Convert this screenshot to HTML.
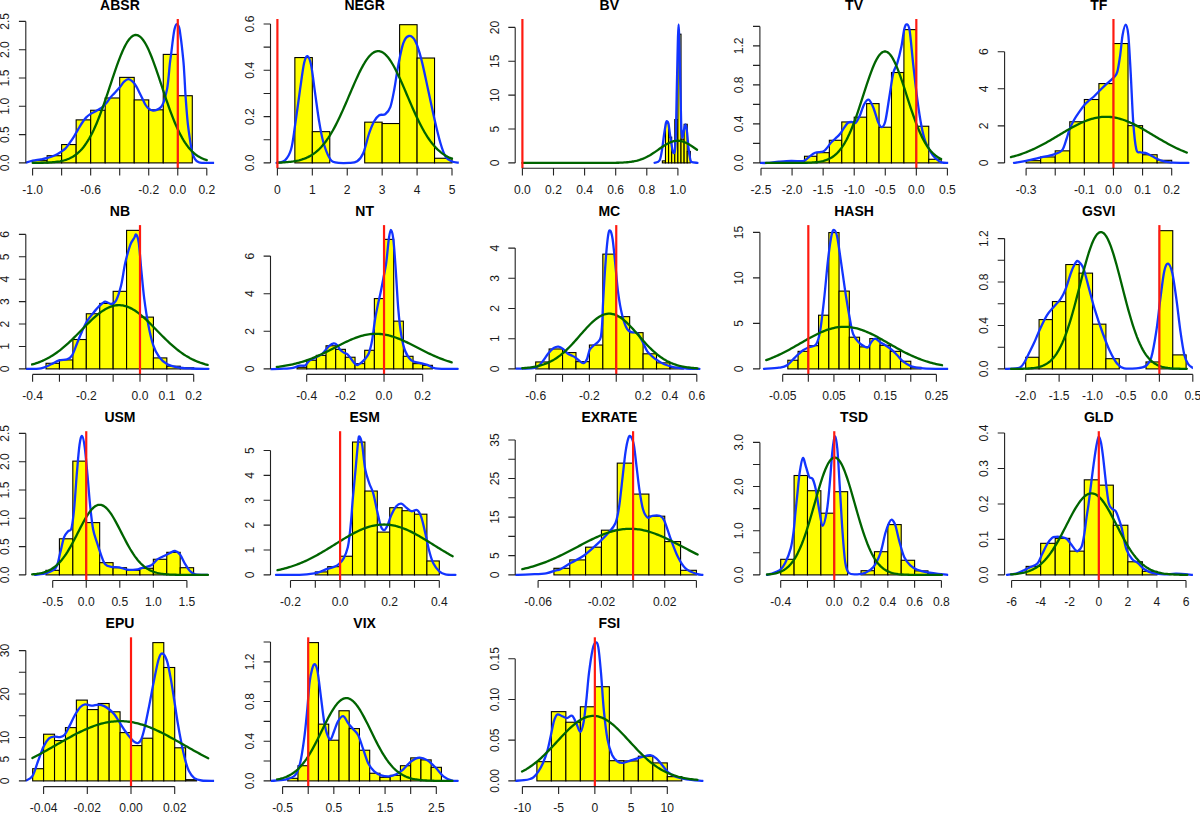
<!DOCTYPE html><html><head><meta charset="utf-8"><style>html,body{margin:0;padding:0;background:#fff;}svg{display:block;}text{font-family:"Liberation Sans",sans-serif;fill:#1a1a1a;}.t{font-weight:bold;font-size:14.0px;fill:#000;}.a{font-size:12.1px;}</style></head><body>
<svg width="1200" height="813" viewBox="0 0 1200 813">
<rect width="1200" height="813" fill="#fff"/>
<defs>
<clipPath id="c_ABSR"><rect x="25.8" y="19" width="188.3" height="149.3"/></clipPath>
<clipPath id="c_NEGR"><rect x="270.5" y="19" width="188.3" height="149.3"/></clipPath>
<clipPath id="c_BV"><rect x="515.2" y="19" width="188.3" height="149.3"/></clipPath>
<clipPath id="c_TV"><rect x="759.9" y="19" width="188.3" height="149.3"/></clipPath>
<clipPath id="c_TF"><rect x="1004.6" y="19" width="188.3" height="149.3"/></clipPath>
<clipPath id="c_NB"><rect x="25.8" y="225.1" width="188.3" height="149.3"/></clipPath>
<clipPath id="c_NT"><rect x="270.5" y="225.1" width="188.3" height="149.3"/></clipPath>
<clipPath id="c_MC"><rect x="515.2" y="225.1" width="188.3" height="149.3"/></clipPath>
<clipPath id="c_HASH"><rect x="759.9" y="225.1" width="188.3" height="149.3"/></clipPath>
<clipPath id="c_GSVI"><rect x="1004.6" y="225.1" width="188.3" height="149.3"/></clipPath>
<clipPath id="c_USM"><rect x="25.8" y="431.2" width="188.3" height="149.3"/></clipPath>
<clipPath id="c_ESM"><rect x="270.5" y="431.2" width="188.3" height="149.3"/></clipPath>
<clipPath id="c_EXRATE"><rect x="515.2" y="431.2" width="188.3" height="149.3"/></clipPath>
<clipPath id="c_TSD"><rect x="759.9" y="431.2" width="188.3" height="149.3"/></clipPath>
<clipPath id="c_GLD"><rect x="1004.6" y="431.2" width="188.3" height="149.3"/></clipPath>
<clipPath id="c_EPU"><rect x="25.8" y="637.3" width="188.3" height="149.3"/></clipPath>
<clipPath id="c_VIX"><rect x="270.5" y="637.3" width="188.3" height="149.3"/></clipPath>
<clipPath id="c_FSI"><rect x="515.2" y="637.3" width="188.3" height="149.3"/></clipPath>
</defs>
<g fill="#ffff00" stroke="#000" stroke-width="1.1"><rect x="32.6" y="160.64" width="14.52" height="2.26"/><rect x="47.12" y="155.71" width="14.52" height="7.19"/><rect x="61.63" y="144.56" width="14.52" height="18.34"/><rect x="76.15" y="119.88" width="14.52" height="43.02"/><rect x="90.67" y="110.26" width="14.52" height="52.64"/><rect x="105.18" y="97.98" width="14.52" height="64.92"/><rect x="119.7" y="77.38" width="14.52" height="85.52"/><rect x="134.22" y="99.9" width="14.52" height="63"/><rect x="148.73" y="109.81" width="14.52" height="53.09"/><rect x="163.25" y="54.4" width="14.52" height="108.5"/><rect x="177.77" y="95.72" width="14.52" height="67.18"/></g>
<g clip-path="url(#c_ABSR)" fill="none" stroke-linejoin="round" stroke-linecap="round">
<path d="M25.4 162.8 C26.63 162.45 30.25 161.27 32.8 160.7 C35.35 160.13 38.23 159.87 40.7 159.4 C43.17 158.93 45.3 158.55 47.6 157.9 C49.9 157.25 52.37 156.45 54.5 155.5 C56.63 154.55 58.6 153.35 60.4 152.2 C62.2 151.05 63.67 150.27 65.3 148.6 C66.93 146.93 68.73 144.25 70.2 142.2 C71.67 140.15 72.78 138.43 74.1 136.3 C75.42 134.17 76.78 131.62 78.1 129.4 C79.42 127.18 80.68 124.97 82 123 C83.32 121.03 84.68 119.03 86 117.6 C87.32 116.17 88.27 115.47 89.9 114.4 C91.53 113.33 93.83 112.32 95.8 111.2 C97.77 110.08 99.9 109.1 101.7 107.7 C103.5 106.3 105.22 104.42 106.6 102.8 C107.98 101.18 108.62 99.68 110 98 C111.38 96.32 113.27 94.5 114.9 92.7 C116.53 90.9 118.27 89.03 119.8 87.2 C121.33 85.37 122.67 83.03 124.1 81.7 C125.53 80.37 126.97 79.2 128.4 79.2 C129.83 79.2 131.37 80.47 132.7 81.7 C134.03 82.93 135.27 84.77 136.4 86.6 C137.53 88.43 138.47 90.65 139.5 92.7 C140.53 94.75 141.58 96.85 142.6 98.9 C143.62 100.95 144.58 103.37 145.6 105 C146.62 106.63 147.47 107.77 148.7 108.7 C149.93 109.63 151.57 110.45 153 110.6 C154.43 110.75 155.97 110.22 157.3 109.6 C158.63 108.98 159.97 108.07 161 106.9 C162.03 105.73 162.78 104.35 163.5 102.6 C164.22 100.85 164.68 98.77 165.3 96.4 C165.92 94.03 166.63 91.8 167.2 88.4 C167.77 85 168.27 80.03 168.7 76 C169.13 71.97 169.35 68.22 169.8 64.2 C170.25 60.18 170.88 56 171.4 51.9 C171.92 47.8 172.38 43.38 172.9 39.6 C173.42 35.82 173.88 31.77 174.5 29.2 C175.12 26.63 175.83 24.52 176.6 24.2 C177.37 23.88 178.43 25.25 179.1 27.3 C179.77 29.35 180.15 33.42 180.6 36.5 C181.05 39.58 181.38 42.2 181.8 45.8 C182.22 49.4 182.77 54.73 183.1 58.1 C183.43 61.47 183.55 62.52 183.8 66 C184.05 69.48 184.33 74.38 184.6 79 C184.87 83.62 185.07 88.53 185.4 93.7 C185.73 98.87 186.18 104.88 186.6 110 C187.02 115.12 187.35 119.53 187.9 124.4 C188.45 129.27 189.23 134.77 189.9 139.2 C190.57 143.63 191.08 147.72 191.9 151 C192.72 154.28 193.67 157.02 194.8 158.9 C195.93 160.78 197.22 161.65 198.7 162.3 C200.18 162.95 201.15 162.72 203.7 162.8 C206.25 162.88 212.28 162.8 214 162.8" stroke="#1234ff" stroke-width="2.3"/>
<path d="M32.6 162.86 L34.05 162.85 L35.5 162.84 L36.96 162.83 L38.41 162.81 L39.86 162.79 L41.31 162.76 L42.76 162.73 L44.21 162.69 L45.66 162.64 L47.12 162.58 L48.57 162.51 L50.02 162.43 L51.47 162.34 L52.92 162.22 L54.38 162.09 L55.83 161.93 L57.28 161.74 L58.73 161.52 L60.18 161.27 L61.63 160.98 L63.09 160.64 L64.54 160.25 L65.99 159.8 L67.44 159.29 L68.89 158.7 L70.34 158.04 L71.8 157.29 L73.25 156.45 L74.7 155.5 L76.15 154.44 L77.6 153.26 L79.05 151.96 L80.51 150.51 L81.96 148.92 L83.41 147.18 L84.86 145.27 L86.31 143.2 L87.76 140.95 L89.22 138.53 L90.67 135.92 L92.12 133.13 L93.57 130.16 L95.02 127.01 L96.47 123.68 L97.93 120.17 L99.38 116.51 L100.83 112.69 L102.28 108.73 L103.73 104.65 L105.18 100.46 L106.64 96.18 L108.09 91.84 L109.54 87.46 L110.99 83.06 L112.44 78.68 L113.89 74.35 L115.34 70.09 L116.8 65.93 L118.25 61.92 L119.7 58.07 L121.15 54.43 L122.6 51.02 L124.06 47.87 L125.51 45.02 L126.96 42.48 L128.41 40.28 L129.86 38.44 L131.31 36.98 L132.77 35.9 L134.22 35.23 L135.67 34.97 L137.12 35.12 L138.57 35.68 L140.02 36.64 L141.48 37.99 L142.93 39.73 L144.38 41.83 L145.83 44.27 L147.28 47.04 L148.73 50.11 L150.19 53.45 L151.64 57.03 L153.09 60.82 L154.54 64.79 L155.99 68.91 L157.44 73.14 L158.9 77.46 L160.35 81.83 L161.8 86.23 L163.25 90.62 L164.7 94.97 L166.15 99.27 L167.6 103.49 L169.06 107.6 L170.51 111.6 L171.96 115.46 L173.41 119.16 L174.86 122.71 L176.31 126.09 L177.77 129.29 L179.22 132.32 L180.67 135.16 L182.12 137.81 L183.57 140.29 L185.03 142.59 L186.48 144.71 L187.93 146.66 L189.38 148.45 L190.83 150.08 L192.28 151.57 L193.73 152.91 L195.19 154.13 L196.64 155.22 L198.09 156.19 L199.54 157.06 L200.99 157.84 L202.45 158.52 L203.9 159.13 L205.35 159.66 L206.8 160.13" stroke="#006400" stroke-width="2.3"/>
</g>
<line x1="177.77" y1="19" x2="177.77" y2="168.3" stroke="#ff1a10" stroke-width="2.2"/>
<path d="M32.6 168.3 H206.8 M32.6 168.3 V175.6 M61.63 168.3 V175.6 M90.67 168.3 V175.6 M119.7 168.3 V175.6 M148.73 168.3 V175.6 M177.77 168.3 V175.6 M206.8 168.3 V175.6 M25.8 162.9 V21.4 M18.9 162.9 H25.8 M18.9 134.6 H25.8 M18.9 106.3 H25.8 M18.9 78 H25.8 M18.9 49.7 H25.8 M18.9 21.4 H25.8" stroke="#222" stroke-width="1.1" fill="none"/>
<text class="a" x="32.6" y="194" text-anchor="middle">-1.0</text>
<text class="a" x="90.67" y="194" text-anchor="middle">-0.6</text>
<text class="a" x="148.73" y="194" text-anchor="middle">-0.2</text>
<text class="a" x="177.77" y="194" text-anchor="middle">0.0</text>
<text class="a" x="206.8" y="194" text-anchor="middle">0.2</text>
<text class="a" x="9.3" y="162.9" text-anchor="middle" transform="rotate(-90 9.3 162.9)">0.0</text>
<text class="a" x="9.3" y="134.6" text-anchor="middle" transform="rotate(-90 9.3 134.6)">0.5</text>
<text class="a" x="9.3" y="106.3" text-anchor="middle" transform="rotate(-90 9.3 106.3)">1.0</text>
<text class="a" x="9.3" y="78" text-anchor="middle" transform="rotate(-90 9.3 78)">1.5</text>
<text class="a" x="9.3" y="49.7" text-anchor="middle" transform="rotate(-90 9.3 49.7)">2.0</text>
<text class="a" x="9.3" y="21.4" text-anchor="middle" transform="rotate(-90 9.3 21.4)">2.5</text>
<text class="t" x="119.95" y="9.9" text-anchor="middle">ABSR</text>
<g fill="#ffff00" stroke="#000" stroke-width="1.1"><rect x="294.86" y="57.57" width="17.46" height="105.33"/><rect x="312.32" y="131.65" width="17.46" height="31.25"/><rect x="329.78" y="162.9" width="17.46" height="0"/><rect x="347.24" y="162.9" width="17.46" height="0"/><rect x="364.7" y="122.16" width="17.46" height="40.74"/><rect x="382.16" y="123.54" width="17.46" height="39.36"/><rect x="399.62" y="24.69" width="17.46" height="138.21"/><rect x="417.08" y="58.03" width="17.46" height="104.87"/><rect x="434.54" y="158.27" width="17.46" height="4.63"/></g>
<g clip-path="url(#c_NEGR)" fill="none" stroke-linejoin="round" stroke-linecap="round">
<path d="M276.6 162.9 C278 162.47 282.58 162.57 285 160.3 C287.42 158.03 289.42 155.15 291.1 149.3 C292.78 143.45 293.6 135.22 295.1 125.2 C296.6 115.18 298.6 99.55 300.1 89.2 C301.6 78.85 302.87 68.62 304.1 63.1 C305.33 57.58 306.33 55.77 307.5 56.1 C308.67 56.43 309.83 58.92 311.1 65.1 C312.37 71.28 313.77 83.85 315.1 93.2 C316.43 102.55 317.77 113.18 319.1 121.2 C320.43 129.22 321.43 135.28 323.1 141.3 C324.77 147.32 327.1 153.8 329.1 157.3 C331.1 160.8 331.75 161.37 335.1 162.3 C338.45 163.23 345.52 163.07 349.2 162.9 C352.88 162.73 354.87 162.9 357.2 161.3 C359.53 159.7 361.2 157.98 363.2 153.3 C365.2 148.62 367.37 138.55 369.2 133.2 C371.03 127.85 372.53 124.2 374.2 121.2 C375.87 118.2 377.37 116.37 379.2 115.2 C381.03 114.03 383.35 115.53 385.2 114.2 C387.05 112.87 388.78 111.37 390.3 107.2 C391.82 103.03 392.97 96.22 394.3 89.2 C395.63 82.18 396.8 72.78 398.3 65.1 C399.8 57.42 401.53 47.95 403.3 43.1 C405.07 38.25 406.9 36.33 408.9 36 C410.9 35.67 413.23 37.25 415.3 41.1 C417.37 44.95 419.18 51.08 421.3 59.1 C423.42 67.12 425.8 79.18 428 89.2 C430.2 99.22 432.42 110.18 434.5 119.2 C436.58 128.22 438.68 137.12 440.5 143.3 C442.32 149.48 443.58 153.3 445.4 156.3 C447.22 159.3 449.17 160.23 451.4 161.3 C453.63 162.37 457.57 162.47 458.8 162.7" stroke="#1234ff" stroke-width="2.3"/>
<path d="M277.4 162.65 L278.85 162.6 L280.31 162.55 L281.76 162.48 L283.22 162.41 L284.67 162.32 L286.13 162.22 L287.58 162.1 L289.04 161.96 L290.5 161.8 L291.95 161.62 L293.4 161.42 L294.86 161.18 L296.31 160.91 L297.77 160.61 L299.22 160.27 L300.68 159.88 L302.13 159.45 L303.59 158.96 L305.04 158.42 L306.5 157.82 L307.95 157.14 L309.41 156.4 L310.87 155.58 L312.32 154.67 L313.77 153.68 L315.23 152.59 L316.69 151.41 L318.14 150.12 L319.59 148.72 L321.05 147.21 L322.5 145.58 L323.96 143.84 L325.41 141.97 L326.87 139.97 L328.32 137.85 L329.78 135.6 L331.24 133.22 L332.69 130.72 L334.14 128.1 L335.6 125.36 L337.05 122.51 L338.51 119.55 L339.96 116.49 L341.42 113.34 L342.88 110.11 L344.33 106.82 L345.78 103.47 L347.24 100.08 L348.69 96.67 L350.15 93.25 L351.6 89.84 L353.06 86.46 L354.51 83.12 L355.97 79.85 L357.42 76.67 L358.88 73.59 L360.33 70.63 L361.79 67.82 L363.25 65.18 L364.7 62.71 L366.15 60.45 L367.61 58.4 L369.06 56.58 L370.52 55 L371.97 53.68 L373.43 52.62 L374.88 51.83 L376.34 51.33 L377.79 51.1 L379.25 51.16 L380.7 51.51 L382.16 52.13 L383.62 53.03 L385.07 54.2 L386.52 55.64 L387.98 57.32 L389.44 59.24 L390.89 61.38 L392.34 63.73 L393.8 66.28 L395.25 69 L396.71 71.87 L398.16 74.88 L399.62 78 L401.07 81.23 L402.53 84.53 L403.99 87.89 L405.44 91.28 L406.89 94.7 L408.35 98.12 L409.8 101.52 L411.26 104.9 L412.71 108.22 L414.17 111.49 L415.62 114.68 L417.08 117.8 L418.53 120.81 L419.99 123.73 L421.44 126.53 L422.9 129.23 L424.35 131.8 L425.81 134.24 L427.26 136.57 L428.72 138.76 L430.17 140.83 L431.63 142.77 L433.08 144.59 L434.54 146.29 L436 147.87 L437.45 149.33 L438.9 150.68 L440.36 151.92 L441.81 153.07 L443.27 154.11 L444.73 155.07 L446.18 155.94 L447.63 156.73 L449.09 157.44 L450.54 158.08 L452 158.66" stroke="#006400" stroke-width="2.3"/>
</g>
<line x1="277.4" y1="19" x2="277.4" y2="168.3" stroke="#ff1a10" stroke-width="2.2"/>
<path d="M277.4 168.3 H452 M277.4 168.3 V175.6 M312.32 168.3 V175.6 M347.24 168.3 V175.6 M382.16 168.3 V175.6 M417.08 168.3 V175.6 M452 168.3 V175.6 M270.5 162.9 V24 M263.6 162.9 H270.5 M263.6 139.75 H270.5 M263.6 116.6 H270.5 M263.6 93.45 H270.5 M263.6 70.3 H270.5 M263.6 47.15 H270.5 M263.6 24 H270.5" stroke="#222" stroke-width="1.1" fill="none"/>
<text class="a" x="277.4" y="194" text-anchor="middle">0</text>
<text class="a" x="312.32" y="194" text-anchor="middle">1</text>
<text class="a" x="347.24" y="194" text-anchor="middle">2</text>
<text class="a" x="382.16" y="194" text-anchor="middle">3</text>
<text class="a" x="417.08" y="194" text-anchor="middle">4</text>
<text class="a" x="452" y="194" text-anchor="middle">5</text>
<text class="a" x="254" y="162.9" text-anchor="middle" transform="rotate(-90 254 162.9)">0.0</text>
<text class="a" x="254" y="116.6" text-anchor="middle" transform="rotate(-90 254 116.6)">0.2</text>
<text class="a" x="254" y="70.3" text-anchor="middle" transform="rotate(-90 254 70.3)">0.4</text>
<text class="a" x="254" y="24" text-anchor="middle" transform="rotate(-90 254 24)">0.6</text>
<text class="t" x="364.65" y="9.9" text-anchor="middle">NEGR</text>
<g fill="#ffff00" stroke="#000" stroke-width="1.1"><rect x="662.35" y="160.87" width="3.11" height="2.03"/><rect x="665.46" y="122.93" width="3.11" height="39.97"/><rect x="668.57" y="137.16" width="3.11" height="25.75"/><rect x="671.68" y="152.06" width="3.11" height="10.84"/><rect x="674.79" y="119.54" width="3.11" height="43.36"/><rect x="677.9" y="34.18" width="3.11" height="128.72"/><rect x="681.01" y="139.19" width="3.11" height="23.71"/><rect x="684.12" y="124.28" width="3.11" height="38.62"/><rect x="687.23" y="151.38" width="3.11" height="11.52"/></g>
<g clip-path="url(#c_BV)" fill="none" stroke-linejoin="round" stroke-linecap="round">
<path d="M654.6 162.8 C655.42 162.42 658.27 162.63 659.5 160.5 C660.73 158.37 661.25 154.25 662 150 C662.75 145.75 663.33 139.5 664 135 C664.67 130.5 665.48 125.28 666 123 C666.52 120.72 666.68 121.13 667.1 121.3 C667.52 121.47 667.93 121.22 668.5 124 C669.07 126.78 669.83 133.67 670.5 138 C671.17 142.33 671.98 147.5 672.5 150 C673.02 152.5 673.18 153 673.6 153 C674.02 153 674.6 153.83 675 150 C675.4 146.17 675.67 141.67 676 130 C676.33 118.33 676.57 97.58 677 80 C677.43 62.42 678.07 24.5 678.6 24.5 C679.13 24.5 679.77 63.25 680.2 80 C680.63 96.75 680.85 115.43 681.2 125 C681.55 134.57 681.92 136.23 682.3 137.4 C682.68 138.57 682.97 134.15 683.5 132 C684.03 129.85 684.92 124.5 685.5 124.5 C686.08 124.5 686.5 128.08 687 132 C687.5 135.92 688 143.67 688.5 148 C689 152.33 689.5 155.67 690 158 C690.5 160.33 690.25 161.2 691.5 162 C692.75 162.8 696.5 162.67 697.5 162.8" stroke="#1234ff" stroke-width="2.3"/>
<path d="M522.4 162.9 L523.86 162.9 L525.31 162.9 L526.77 162.9 L528.22 162.9 L529.68 162.9 L531.13 162.9 L532.59 162.9 L534.04 162.9 L535.5 162.9 L536.95 162.9 L538.41 162.9 L539.86 162.9 L541.32 162.9 L542.77 162.9 L544.23 162.9 L545.68 162.9 L547.14 162.9 L548.59 162.9 L550.05 162.9 L551.5 162.9 L552.96 162.9 L554.41 162.9 L555.87 162.9 L557.33 162.9 L558.78 162.9 L560.24 162.9 L561.69 162.9 L563.15 162.9 L564.6 162.9 L566.06 162.9 L567.51 162.9 L568.97 162.9 L570.42 162.9 L571.88 162.9 L573.33 162.9 L574.79 162.9 L576.24 162.9 L577.7 162.9 L579.15 162.9 L580.61 162.9 L582.06 162.9 L583.52 162.9 L584.97 162.9 L586.43 162.9 L587.88 162.9 L589.34 162.9 L590.8 162.9 L592.25 162.9 L593.71 162.9 L595.16 162.9 L596.62 162.9 L598.07 162.9 L599.53 162.9 L600.98 162.89 L602.44 162.89 L603.89 162.89 L605.35 162.88 L606.8 162.88 L608.26 162.87 L609.71 162.86 L611.17 162.85 L612.62 162.84 L614.08 162.82 L615.53 162.79 L616.99 162.77 L618.44 162.73 L619.9 162.68 L621.36 162.63 L622.81 162.56 L624.27 162.47 L625.72 162.37 L627.18 162.25 L628.63 162.11 L630.09 161.94 L631.54 161.74 L633 161.5 L634.45 161.23 L635.91 160.92 L637.36 160.56 L638.82 160.16 L640.27 159.7 L641.73 159.19 L643.18 158.62 L644.64 158 L646.09 157.32 L647.55 156.58 L649 155.78 L650.46 154.93 L651.91 154.03 L653.37 153.09 L654.83 152.12 L656.28 151.11 L657.74 150.09 L659.19 149.06 L660.65 148.03 L662.1 147.02 L663.56 146.05 L665.01 145.12 L666.47 144.24 L667.92 143.44 L669.38 142.73 L670.83 142.11 L672.29 141.59 L673.74 141.2 L675.2 140.92 L676.65 140.77 L678.11 140.75 L679.56 140.87 L681.02 141.1 L682.47 141.47 L683.93 141.95 L685.38 142.54 L686.84 143.23 L688.3 144.01 L689.75 144.86 L691.21 145.78 L692.66 146.74 L694.12 147.74 L695.57 148.76 L697.03 149.79" stroke="#006400" stroke-width="2.3"/>
</g>
<line x1="522.4" y1="19" x2="522.4" y2="168.3" stroke="#ff1a10" stroke-width="2.2"/>
<path d="M522.4 168.3 H677.9 M522.4 168.3 V175.6 M553.5 168.3 V175.6 M584.6 168.3 V175.6 M615.7 168.3 V175.6 M646.8 168.3 V175.6 M677.9 168.3 V175.6 M515.2 162.9 V27.4 M508.3 162.9 H515.2 M508.3 129.03 H515.2 M508.3 95.15 H515.2 M508.3 61.28 H515.2 M508.3 27.4 H515.2" stroke="#222" stroke-width="1.1" fill="none"/>
<text class="a" x="522.4" y="194" text-anchor="middle">0.0</text>
<text class="a" x="553.5" y="194" text-anchor="middle">0.2</text>
<text class="a" x="584.6" y="194" text-anchor="middle">0.4</text>
<text class="a" x="615.7" y="194" text-anchor="middle">0.6</text>
<text class="a" x="646.8" y="194" text-anchor="middle">0.8</text>
<text class="a" x="677.9" y="194" text-anchor="middle">1.0</text>
<text class="a" x="498.7" y="162.9" text-anchor="middle" transform="rotate(-90 498.7 162.9)">0</text>
<text class="a" x="498.7" y="129.03" text-anchor="middle" transform="rotate(-90 498.7 129.03)">5</text>
<text class="a" x="498.7" y="95.15" text-anchor="middle" transform="rotate(-90 498.7 95.15)">10</text>
<text class="a" x="498.7" y="61.28" text-anchor="middle" transform="rotate(-90 498.7 61.28)">15</text>
<text class="a" x="498.7" y="27.4" text-anchor="middle" transform="rotate(-90 498.7 27.4)">20</text>
<text class="t" x="609.35" y="9.9" text-anchor="middle">BV</text>
<g fill="#ffff00" stroke="#000" stroke-width="1.1"><rect x="804.49" y="156.27" width="12.43" height="6.63"/><rect x="816.92" y="152.66" width="12.43" height="10.24"/><rect x="829.35" y="140.28" width="12.43" height="22.62"/><rect x="841.77" y="121.95" width="12.43" height="40.95"/><rect x="854.2" y="117.17" width="12.43" height="45.73"/><rect x="866.63" y="103.62" width="12.43" height="59.28"/><rect x="879.05" y="127.22" width="12.43" height="35.69"/><rect x="891.48" y="72.52" width="12.43" height="90.38"/><rect x="903.91" y="29.62" width="12.43" height="133.28"/><rect x="916.33" y="126.24" width="12.43" height="36.66"/><rect x="928.76" y="159.29" width="12.43" height="3.61"/></g>
<g clip-path="url(#c_TV)" fill="none" stroke-linejoin="round" stroke-linecap="round">
<path d="M760 162.9 C761.17 162.9 763.83 163.1 767 162.9 C770.17 162.7 774.98 162.03 779 161.7 C783.02 161.37 787.52 160.98 791.1 160.9 C794.68 160.82 798.3 161.23 800.5 161.2 C802.7 161.17 802.85 161.42 804.3 160.7 C805.75 159.98 807.4 158.22 809.2 156.9 C811 155.58 812.8 153.7 815.1 152.8 C817.4 151.9 821.03 152.28 823 151.5 C824.97 150.72 825.58 149.57 826.9 148.1 C828.22 146.63 829.42 144.35 830.9 142.7 C832.38 141.05 834.33 139.6 835.8 138.2 C837.27 136.8 838.38 135.93 839.7 134.3 C841.02 132.67 842.38 130.28 843.7 128.4 C845.02 126.52 846.3 124.07 847.6 123 C848.9 121.93 850.18 122 851.5 122 C852.82 122 854.18 123.9 855.5 123 C856.82 122.1 857.95 119.73 859.4 116.6 C860.85 113.47 862.67 107.03 864.2 104.2 C865.73 101.37 867.1 99.1 868.6 99.6 C870.1 100.1 871.6 103.43 873.2 107.2 C874.8 110.97 876.78 118.87 878.2 122.2 C879.62 125.53 880.52 127.37 881.7 127.2 C882.88 127.03 884.03 126.2 885.3 121.2 C886.57 116.2 887.97 105.22 889.3 97.2 C890.63 89.18 891.97 78.78 893.3 73.1 C894.63 67.42 895.97 67.43 897.3 63.1 C898.63 58.77 900.13 52.78 901.3 47.1 C902.47 41.42 903.37 32.78 904.3 29 C905.23 25.22 906 24.07 906.9 24.4 C907.8 24.73 908.63 24.22 909.7 31 C910.77 37.78 912.03 53.73 913.3 65.1 C914.57 76.47 915.97 89.18 917.3 99.2 C918.63 109.22 919.97 118.18 921.3 125.2 C922.63 132.22 923.8 136.95 925.3 141.3 C926.8 145.65 928.62 148.47 930.3 151.3 C931.98 154.13 933.55 156.47 935.4 158.3 C937.25 160.13 939.33 161.53 941.4 162.3 C943.47 163.07 946.73 162.8 947.8 162.9" stroke="#1234ff" stroke-width="2.3"/>
<path d="M765.97 162.9 L767.43 162.9 L768.89 162.9 L770.35 162.9 L771.81 162.9 L773.27 162.9 L774.73 162.9 L776.19 162.9 L777.65 162.9 L779.11 162.9 L780.57 162.9 L782.03 162.9 L783.49 162.9 L784.95 162.9 L786.41 162.9 L787.87 162.9 L789.33 162.89 L790.79 162.89 L792.25 162.89 L793.71 162.88 L795.17 162.88 L796.63 162.87 L798.09 162.86 L799.55 162.85 L801.01 162.84 L802.47 162.82 L803.93 162.8 L805.39 162.77 L806.85 162.73 L808.31 162.68 L809.77 162.63 L811.23 162.56 L812.69 162.47 L814.16 162.36 L815.62 162.23 L817.08 162.07 L818.54 161.88 L820 161.65 L821.46 161.37 L822.92 161.04 L824.38 160.65 L825.84 160.19 L827.3 159.65 L828.76 159.02 L830.22 158.29 L831.68 157.45 L833.14 156.49 L834.6 155.38 L836.06 154.13 L837.52 152.72 L838.98 151.13 L840.44 149.35 L841.9 147.38 L843.36 145.2 L844.82 142.8 L846.28 140.19 L847.74 137.35 L849.2 134.28 L850.66 130.99 L852.12 127.49 L853.58 123.78 L855.04 119.87 L856.5 115.79 L857.96 111.55 L859.42 107.19 L860.88 102.73 L862.34 98.2 L863.8 93.65 L865.26 89.12 L866.72 84.64 L868.18 80.27 L869.64 76.05 L871.1 72.03 L872.56 68.25 L874.02 64.76 L875.48 61.6 L876.94 58.81 L878.4 56.43 L879.86 54.48 L881.32 53 L882.78 52.01 L884.24 51.51 L885.7 51.51 L887.16 52.02 L888.62 53.03 L890.08 54.52 L891.54 56.47 L893 58.86 L894.46 61.66 L895.92 64.83 L897.38 68.32 L898.84 72.11 L900.3 76.14 L901.76 80.36 L903.22 84.74 L904.68 89.22 L906.14 93.75 L907.6 98.3 L909.06 102.82 L910.52 107.28 L911.98 111.64 L913.44 115.88 L914.9 119.96 L916.36 123.86 L917.82 127.57 L919.28 131.07 L920.74 134.35 L922.2 137.41 L923.67 140.25 L925.13 142.86 L926.59 145.25 L928.05 147.42 L929.51 149.39 L930.97 151.16 L932.43 152.75 L933.89 154.16 L935.35 155.41 L936.81 156.51 L938.27 157.47 L939.73 158.31 L941.19 159.04" stroke="#006400" stroke-width="2.3"/>
</g>
<line x1="916.33" y1="19" x2="916.33" y2="168.3" stroke="#ff1a10" stroke-width="2.2"/>
<path d="M761 168.3 H947.4 M761 168.3 V175.6 M792.07 168.3 V175.6 M823.13 168.3 V175.6 M854.2 168.3 V175.6 M885.27 168.3 V175.6 M916.33 168.3 V175.6 M947.4 168.3 V175.6 M759.9 162.9 V26.4 M753 162.9 H759.9 M753 143.4 H759.9 M753 123.9 H759.9 M753 104.4 H759.9 M753 84.9 H759.9 M753 65.4 H759.9 M753 45.9 H759.9 M753 26.4 H759.9" stroke="#222" stroke-width="1.1" fill="none"/>
<text class="a" x="761" y="194" text-anchor="middle">-2.5</text>
<text class="a" x="792.07" y="194" text-anchor="middle">-2.0</text>
<text class="a" x="823.13" y="194" text-anchor="middle">-1.5</text>
<text class="a" x="854.2" y="194" text-anchor="middle">-1.0</text>
<text class="a" x="885.27" y="194" text-anchor="middle">-0.5</text>
<text class="a" x="916.33" y="194" text-anchor="middle">0.0</text>
<text class="a" x="947.4" y="194" text-anchor="middle">0.5</text>
<text class="a" x="743.4" y="162.9" text-anchor="middle" transform="rotate(-90 743.4 162.9)">0.0</text>
<text class="a" x="743.4" y="123.9" text-anchor="middle" transform="rotate(-90 743.4 123.9)">0.4</text>
<text class="a" x="743.4" y="84.9" text-anchor="middle" transform="rotate(-90 743.4 84.9)">0.8</text>
<text class="a" x="743.4" y="45.9" text-anchor="middle" transform="rotate(-90 743.4 45.9)">1.2</text>
<text class="t" x="854.05" y="9.9" text-anchor="middle">TV</text>
<g fill="#ffff00" stroke="#000" stroke-width="1.1"><rect x="1026.1" y="160.68" width="14.56" height="2.22"/><rect x="1040.66" y="156.97" width="14.56" height="5.93"/><rect x="1055.22" y="150.85" width="14.56" height="12.05"/><rect x="1069.78" y="121.76" width="14.56" height="41.14"/><rect x="1084.34" y="99.52" width="14.56" height="63.38"/><rect x="1098.9" y="83.58" width="14.56" height="79.32"/><rect x="1113.46" y="43.55" width="14.56" height="119.35"/><rect x="1128.02" y="125.65" width="14.56" height="37.25"/><rect x="1142.58" y="154.75" width="14.56" height="8.15"/><rect x="1157.14" y="160.31" width="14.56" height="2.59"/></g>
<g clip-path="url(#c_TF)" fill="none" stroke-linejoin="round" stroke-linecap="round">
<path d="M1014 162.9 C1016.02 162.57 1021.75 161.77 1026.1 160.9 C1030.45 160.03 1035.43 158.8 1040.1 157.7 C1044.77 156.6 1050.43 155.53 1054.1 154.3 C1057.77 153.07 1060.03 152.85 1062.1 150.3 C1064.17 147.75 1065.27 142.48 1066.5 139 C1067.73 135.52 1068.25 132.57 1069.5 129.4 C1070.75 126.23 1072.4 122.87 1074 120 C1075.6 117.13 1077.3 114.77 1079.1 112.2 C1080.9 109.63 1083.15 106.55 1084.8 104.6 C1086.45 102.65 1087.57 101.77 1089 100.5 C1090.43 99.23 1091.88 98.38 1093.4 97 C1094.92 95.62 1096.03 94.27 1098.1 92.2 C1100.17 90.13 1103.25 86.98 1105.8 84.6 C1108.35 82.22 1111.5 79.97 1113.4 77.9 C1115.3 75.83 1116.07 76 1117.2 72.2 C1118.33 68.4 1119.3 61.3 1120.2 55.1 C1121.1 48.9 1121.68 40.08 1122.6 35 C1123.52 29.92 1124.75 24.6 1125.7 24.6 C1126.65 24.6 1127.47 26.92 1128.3 35 C1129.13 43.08 1129.87 58.4 1130.7 73.1 C1131.53 87.8 1132.37 110.5 1133.3 123.2 C1134.23 135.9 1135.13 144.45 1136.3 149.3 C1137.47 154.15 1138.8 151.7 1140.3 152.3 C1141.8 152.9 1143.3 152.23 1145.3 152.9 C1147.3 153.57 1149.8 155.07 1152.3 156.3 C1154.8 157.53 1157.3 159.3 1160.3 160.3 C1163.3 161.3 1165.62 161.87 1170.3 162.3 C1174.98 162.73 1185.38 162.8 1188.4 162.9" stroke="#1234ff" stroke-width="2.3"/>
<path d="M1010.96 157.11 L1012.42 156.73 L1013.89 156.33 L1015.35 155.92 L1016.82 155.48 L1018.29 155.03 L1019.75 154.55 L1021.22 154.06 L1022.68 153.54 L1024.15 153.01 L1025.61 152.45 L1027.08 151.88 L1028.55 151.28 L1030.01 150.67 L1031.48 150.03 L1032.94 149.38 L1034.41 148.7 L1035.87 148.01 L1037.34 147.29 L1038.81 146.56 L1040.27 145.82 L1041.74 145.05 L1043.2 144.27 L1044.67 143.48 L1046.13 142.67 L1047.6 141.85 L1049.07 141.01 L1050.53 140.17 L1052 139.32 L1053.46 138.45 L1054.93 137.59 L1056.39 136.71 L1057.86 135.84 L1059.33 134.96 L1060.79 134.08 L1062.26 133.2 L1063.72 132.33 L1065.19 131.46 L1066.65 130.6 L1068.12 129.75 L1069.59 128.91 L1071.05 128.08 L1072.52 127.27 L1073.98 126.48 L1075.45 125.7 L1076.91 124.95 L1078.38 124.21 L1079.85 123.51 L1081.31 122.82 L1082.78 122.17 L1084.24 121.55 L1085.71 120.96 L1087.17 120.4 L1088.64 119.88 L1090.11 119.39 L1091.57 118.95 L1093.04 118.54 L1094.5 118.17 L1095.97 117.84 L1097.43 117.56 L1098.9 117.32 L1100.37 117.12 L1101.83 116.96 L1103.3 116.86 L1104.76 116.79 L1106.23 116.78 L1107.69 116.8 L1109.16 116.88 L1110.63 117 L1112.09 117.16 L1113.56 117.37 L1115.02 117.62 L1116.49 117.91 L1117.95 118.25 L1119.42 118.63 L1120.89 119.04 L1122.35 119.5 L1123.82 119.99 L1125.28 120.52 L1126.75 121.09 L1128.21 121.69 L1129.68 122.32 L1131.15 122.98 L1132.61 123.66 L1134.08 124.38 L1135.54 125.11 L1137.01 125.87 L1138.47 126.66 L1139.94 127.45 L1141.41 128.27 L1142.87 129.1 L1144.34 129.94 L1145.8 130.8 L1147.27 131.66 L1148.73 132.53 L1150.2 133.4 L1151.67 134.28 L1153.13 135.16 L1154.6 136.03 L1156.06 136.91 L1157.53 137.78 L1158.99 138.65 L1160.46 139.51 L1161.93 140.36 L1163.39 141.2 L1164.86 142.03 L1166.32 142.85 L1167.79 143.66 L1169.25 144.45 L1170.72 145.23 L1172.19 145.99 L1173.65 146.73 L1175.12 147.46 L1176.58 148.17 L1178.05 148.85 L1179.51 149.53 L1180.98 150.18 L1182.45 150.81 L1183.91 151.42 L1185.38 152.01 L1186.84 152.58" stroke="#006400" stroke-width="2.3"/>
</g>
<line x1="1113.46" y1="19" x2="1113.46" y2="168.3" stroke="#ff1a10" stroke-width="2.2"/>
<path d="M1026.1 168.3 H1171.7 M1026.1 168.3 V175.6 M1055.22 168.3 V175.6 M1084.34 168.3 V175.6 M1113.46 168.3 V175.6 M1142.58 168.3 V175.6 M1171.7 168.3 V175.6 M1004.6 162.9 V51.7 M997.7 162.9 H1004.6 M997.7 125.83 H1004.6 M997.7 88.77 H1004.6 M997.7 51.7 H1004.6" stroke="#222" stroke-width="1.1" fill="none"/>
<text class="a" x="1026.1" y="194" text-anchor="middle">-0.3</text>
<text class="a" x="1084.34" y="194" text-anchor="middle">-0.1</text>
<text class="a" x="1113.46" y="194" text-anchor="middle">0.0</text>
<text class="a" x="1142.58" y="194" text-anchor="middle">0.1</text>
<text class="a" x="1171.7" y="194" text-anchor="middle">0.2</text>
<text class="a" x="988.1" y="162.9" text-anchor="middle" transform="rotate(-90 988.1 162.9)">0</text>
<text class="a" x="988.1" y="125.83" text-anchor="middle" transform="rotate(-90 988.1 125.83)">2</text>
<text class="a" x="988.1" y="88.77" text-anchor="middle" transform="rotate(-90 988.1 88.77)">4</text>
<text class="a" x="988.1" y="51.7" text-anchor="middle" transform="rotate(-90 988.1 51.7)">6</text>
<text class="t" x="1098.75" y="9.9" text-anchor="middle">TF</text>
<g fill="#ffff00" stroke="#000" stroke-width="1.1"><rect x="46.03" y="363.3" width="13.42" height="5.6"/><rect x="59.45" y="359.93" width="13.42" height="8.97"/><rect x="72.88" y="339.53" width="13.43" height="29.37"/><rect x="86.3" y="313.75" width="13.42" height="55.14"/><rect x="99.72" y="303.44" width="13.43" height="65.46"/><rect x="113.15" y="291.34" width="13.43" height="77.56"/><rect x="126.58" y="230.37" width="13.42" height="138.53"/><rect x="140" y="317.12" width="13.42" height="51.78"/><rect x="153.42" y="357.92" width="13.42" height="10.98"/><rect x="166.85" y="366.21" width="13.43" height="2.69"/><rect x="180.27" y="367.78" width="13.43" height="1.12"/></g>
<g clip-path="url(#c_NB)" fill="none" stroke-linejoin="round" stroke-linecap="round">
<path d="M26 368.9 C28.5 368.8 36.82 369.07 41 368.3 C45.18 367.53 48.08 365.63 51.1 364.3 C54.12 362.97 56.43 361.13 59.1 360.3 C61.77 359.47 64.93 360.13 67.1 359.3 C69.27 358.47 70.43 357.98 72.1 355.3 C73.77 352.62 75.43 347.22 77.1 343.2 C78.77 339.18 80.43 334.87 82.1 331.2 C83.77 327.53 85.27 324.2 87.1 321.2 C88.93 318.2 91.08 315.7 93.1 313.2 C95.12 310.7 97.18 308.13 99.2 306.2 C101.22 304.27 103.2 301.93 105.2 301.6 C107.2 301.27 109.37 304.43 111.2 304.2 C113.03 303.97 114.53 303.38 116.2 300.2 C117.87 297.02 119.7 291.28 121.2 285.1 C122.7 278.92 123.7 269.77 125.2 263.1 C126.7 256.43 128.7 249.28 130.2 245.1 C131.7 240.92 133.2 239.75 134.2 238 C135.2 236.25 135.43 233.77 136.2 234.6 C136.97 235.43 137.93 236.92 138.8 243 C139.67 249.08 140.48 261.73 141.4 271.1 C142.32 280.47 143.13 290.18 144.3 299.2 C145.47 308.22 146.9 317.52 148.4 325.2 C149.9 332.88 151.48 339.95 153.3 345.3 C155.12 350.65 156.97 354.13 159.3 357.3 C161.63 360.47 164.3 362.63 167.3 364.3 C170.3 365.97 173.3 366.6 177.3 367.3 C181.3 368 186.12 368.23 191.3 368.5 C196.48 368.77 205.55 368.83 208.4 368.9" stroke="#1234ff" stroke-width="2.3"/>
<path d="M32.06 364.46 L33.53 364.04 L34.99 363.6 L36.45 363.12 L37.92 362.62 L39.38 362.07 L40.84 361.49 L42.31 360.88 L43.77 360.22 L45.23 359.53 L46.7 358.8 L48.16 358.02 L49.62 357.21 L51.09 356.35 L52.55 355.45 L54.01 354.51 L55.48 353.52 L56.94 352.49 L58.4 351.42 L59.87 350.31 L61.33 349.16 L62.79 347.96 L64.26 346.73 L65.72 345.46 L67.18 344.15 L68.65 342.82 L70.11 341.45 L71.57 340.05 L73.04 338.62 L74.5 337.18 L75.96 335.71 L77.43 334.23 L78.89 332.74 L80.35 331.24 L81.82 329.74 L83.28 328.24 L84.74 326.75 L86.21 325.27 L87.67 323.8 L89.13 322.35 L90.6 320.93 L92.06 319.54 L93.52 318.19 L94.99 316.88 L96.45 315.62 L97.91 314.4 L99.38 313.25 L100.84 312.15 L102.3 311.12 L103.77 310.17 L105.23 309.28 L106.69 308.47 L108.16 307.75 L109.62 307.11 L111.08 306.55 L112.55 306.09 L114.01 305.72 L115.47 305.44 L116.94 305.25 L118.4 305.17 L119.86 305.17 L121.33 305.28 L122.79 305.48 L124.25 305.77 L125.72 306.16 L127.18 306.64 L128.64 307.21 L130.11 307.87 L131.57 308.61 L133.03 309.43 L134.5 310.33 L135.96 311.3 L137.42 312.34 L138.89 313.45 L140.35 314.61 L141.81 315.83 L143.28 317.11 L144.74 318.43 L146.2 319.78 L147.67 321.18 L149.13 322.6 L150.59 324.05 L152.06 325.52 L153.52 327.01 L154.98 328.5 L156.45 330 L157.91 331.51 L159.37 333 L160.84 334.49 L162.3 335.97 L163.76 337.43 L165.23 338.87 L166.69 340.29 L168.15 341.69 L169.62 343.05 L171.08 344.38 L172.54 345.68 L174.01 346.95 L175.47 348.17 L176.93 349.36 L178.4 350.51 L179.86 351.61 L181.32 352.68 L182.79 353.7 L184.25 354.68 L185.71 355.61 L187.18 356.5 L188.64 357.35 L190.1 358.16 L191.57 358.93 L193.03 359.66 L194.49 360.34 L195.96 360.99 L197.42 361.6 L198.88 362.17 L200.35 362.71 L201.81 363.21 L203.27 363.68 L204.74 364.12 L206.2 364.52 L207.66 364.9" stroke="#006400" stroke-width="2.3"/>
</g>
<line x1="140" y1="225.1" x2="140" y2="374.4" stroke="#ff1a10" stroke-width="2.2"/>
<path d="M32.6 374.4 H193.7 M32.6 374.4 V381.7 M59.45 374.4 V381.7 M86.3 374.4 V381.7 M113.15 374.4 V381.7 M140 374.4 V381.7 M166.85 374.4 V381.7 M193.7 374.4 V381.7 M25.8 368.9 V234.4 M18.9 368.9 H25.8 M18.9 346.48 H25.8 M18.9 324.07 H25.8 M18.9 301.65 H25.8 M18.9 279.23 H25.8 M18.9 256.82 H25.8 M18.9 234.4 H25.8" stroke="#222" stroke-width="1.1" fill="none"/>
<text class="a" x="32.6" y="400.1" text-anchor="middle">-0.4</text>
<text class="a" x="86.3" y="400.1" text-anchor="middle">-0.2</text>
<text class="a" x="140" y="400.1" text-anchor="middle">0.0</text>
<text class="a" x="166.85" y="400.1" text-anchor="middle">0.1</text>
<text class="a" x="193.7" y="400.1" text-anchor="middle">0.2</text>
<text class="a" x="9.3" y="368.9" text-anchor="middle" transform="rotate(-90 9.3 368.9)">0</text>
<text class="a" x="9.3" y="346.48" text-anchor="middle" transform="rotate(-90 9.3 346.48)">1</text>
<text class="a" x="9.3" y="324.07" text-anchor="middle" transform="rotate(-90 9.3 324.07)">2</text>
<text class="a" x="9.3" y="301.65" text-anchor="middle" transform="rotate(-90 9.3 301.65)">3</text>
<text class="a" x="9.3" y="279.23" text-anchor="middle" transform="rotate(-90 9.3 279.23)">4</text>
<text class="a" x="9.3" y="256.82" text-anchor="middle" transform="rotate(-90 9.3 256.82)">5</text>
<text class="a" x="9.3" y="234.4" text-anchor="middle" transform="rotate(-90 9.3 234.4)">6</text>
<text class="t" x="119.95" y="216" text-anchor="middle">NB</text>
<g fill="#ffff00" stroke="#000" stroke-width="1.1"><rect x="297.03" y="367.3" width="9.67" height="1.6"/><rect x="306.7" y="360.25" width="9.67" height="8.65"/><rect x="316.37" y="355.36" width="9.67" height="13.54"/><rect x="326.03" y="345.78" width="9.67" height="23.12"/><rect x="335.7" y="349.35" width="9.67" height="19.55"/><rect x="345.37" y="357.24" width="9.67" height="11.66"/><rect x="355.03" y="363.64" width="9.67" height="5.26"/><rect x="364.7" y="350.29" width="9.67" height="18.61"/><rect x="374.37" y="298.59" width="9.67" height="70.31"/><rect x="384.03" y="239.37" width="9.67" height="129.53"/><rect x="393.7" y="321.15" width="9.67" height="47.75"/><rect x="403.37" y="356.3" width="9.67" height="12.6"/><rect x="413.03" y="363.64" width="9.67" height="5.26"/><rect x="422.7" y="365.33" width="9.67" height="3.57"/></g>
<g clip-path="url(#c_NT)" fill="none" stroke-linejoin="round" stroke-linecap="round">
<path d="M270 369.2 C272.3 369.12 279.95 368.93 283.8 368.7 C287.65 368.47 290.48 368.3 293.1 367.8 C295.72 367.3 297.5 366.08 299.5 365.7 C301.5 365.32 303.57 366.23 305.1 365.5 C306.63 364.77 307.48 362.38 308.7 361.3 C309.92 360.22 311.02 359.77 312.4 359 C313.78 358.23 315.45 357.47 317 356.7 C318.55 355.93 320.3 355.47 321.7 354.4 C323.1 353.33 324.18 351.68 325.4 350.3 C326.62 348.92 327.62 347.25 329 346.1 C330.38 344.95 332.32 343.55 333.7 343.4 C335.08 343.25 336.23 344.13 337.3 345.2 C338.37 346.27 339.02 348.57 340.1 349.8 C341.18 351.03 342.57 351.83 343.8 352.6 C345.03 353.37 346.27 353.33 347.5 354.4 C348.73 355.47 349.97 357.45 351.2 359 C352.43 360.55 353.83 362.7 354.9 363.7 C355.97 364.7 356.53 365.17 357.6 365 C358.67 364.83 360.07 363.7 361.3 362.7 C362.53 361.7 363.77 360.53 365 359 C366.23 357.47 367.62 356.1 368.7 353.5 C369.78 350.9 370.73 346.93 371.5 343.4 C372.27 339.87 372.68 336.45 373.3 332.3 C373.92 328.15 374.43 323.12 375.2 318.5 C375.97 313.88 377.02 308.85 377.9 304.6 C378.78 300.35 379.62 297.25 380.5 293 C381.38 288.75 382.25 284.08 383.2 279.1 C384.15 274.12 385.27 269.78 386.2 263.1 C387.13 256.42 388.02 244.52 388.8 239 C389.58 233.48 390.15 230 390.9 230 C391.65 230 392.5 232.48 393.3 239 C394.1 245.52 394.87 257.4 395.7 269.1 C396.53 280.8 397.37 298.18 398.3 309.2 C399.23 320.22 400.13 328.18 401.3 335.2 C402.47 342.22 403.63 347.12 405.3 351.3 C406.97 355.48 408.97 358.37 411.3 360.3 C413.63 362.23 416.63 362.13 419.3 362.9 C421.97 363.67 424.63 364 427.3 364.9 C429.97 365.8 430.22 367.63 435.3 368.3 C440.38 368.97 454.05 368.8 457.8 368.9" stroke="#1234ff" stroke-width="2.3"/>
<path d="M276.73 366.95 L278.19 366.77 L279.65 366.59 L281.11 366.39 L282.57 366.18 L284.02 365.96 L285.48 365.72 L286.94 365.47 L288.4 365.2 L289.86 364.91 L291.31 364.61 L292.77 364.29 L294.23 363.96 L295.69 363.6 L297.15 363.23 L298.6 362.84 L300.06 362.43 L301.52 362 L302.98 361.55 L304.44 361.08 L305.89 360.59 L307.35 360.08 L308.81 359.56 L310.27 359.01 L311.73 358.45 L313.18 357.86 L314.64 357.26 L316.1 356.64 L317.56 356.01 L319.02 355.36 L320.47 354.69 L321.93 354.01 L323.39 353.31 L324.85 352.61 L326.31 351.89 L327.77 351.16 L329.22 350.43 L330.68 349.68 L332.14 348.94 L333.6 348.19 L335.06 347.44 L336.51 346.69 L337.97 345.94 L339.43 345.19 L340.89 344.46 L342.35 343.73 L343.8 343.01 L345.26 342.3 L346.72 341.61 L348.18 340.94 L349.64 340.28 L351.09 339.65 L352.55 339.04 L354.01 338.45 L355.47 337.89 L356.93 337.36 L358.38 336.86 L359.84 336.4 L361.3 335.96 L362.76 335.57 L364.22 335.21 L365.67 334.89 L367.13 334.61 L368.59 334.37 L370.05 334.17 L371.51 334.01 L372.96 333.9 L374.42 333.83 L375.88 333.8 L377.34 333.82 L378.8 333.88 L380.26 333.99 L381.71 334.13 L383.17 334.32 L384.63 334.56 L386.09 334.83 L387.55 335.14 L389 335.49 L390.46 335.88 L391.92 336.31 L393.38 336.77 L394.84 337.26 L396.29 337.78 L397.75 338.33 L399.21 338.91 L400.67 339.52 L402.13 340.15 L403.58 340.8 L405.04 341.47 L406.5 342.16 L407.96 342.86 L409.42 343.58 L410.87 344.31 L412.33 345.04 L413.79 345.79 L415.25 346.53 L416.71 347.28 L418.16 348.04 L419.62 348.79 L421.08 349.53 L422.54 350.28 L424 351.01 L425.45 351.74 L426.91 352.46 L428.37 353.17 L429.83 353.87 L431.29 354.55 L432.75 355.22 L434.2 355.88 L435.66 356.52 L437.12 357.14 L438.58 357.74 L440.04 358.33 L441.49 358.9 L442.95 359.45 L444.41 359.98 L445.87 360.49 L447.33 360.98 L448.78 361.45 L450.24 361.91 L451.7 362.34" stroke="#006400" stroke-width="2.3"/>
</g>
<line x1="384.03" y1="225.1" x2="384.03" y2="374.4" stroke="#ff1a10" stroke-width="2.2"/>
<path d="M306.7 374.4 H422.7 M306.7 374.4 V381.7 M345.37 374.4 V381.7 M384.03 374.4 V381.7 M422.7 374.4 V381.7 M270.5 368.9 V256.1 M263.6 368.9 H270.5 M263.6 331.3 H270.5 M263.6 293.7 H270.5 M263.6 256.1 H270.5" stroke="#222" stroke-width="1.1" fill="none"/>
<text class="a" x="306.7" y="400.1" text-anchor="middle">-0.4</text>
<text class="a" x="345.37" y="400.1" text-anchor="middle">-0.2</text>
<text class="a" x="384.03" y="400.1" text-anchor="middle">0.0</text>
<text class="a" x="422.7" y="400.1" text-anchor="middle">0.2</text>
<text class="a" x="254" y="368.9" text-anchor="middle" transform="rotate(-90 254 368.9)">0</text>
<text class="a" x="254" y="331.3" text-anchor="middle" transform="rotate(-90 254 331.3)">2</text>
<text class="a" x="254" y="293.7" text-anchor="middle" transform="rotate(-90 254 293.7)">4</text>
<text class="a" x="254" y="256.1" text-anchor="middle" transform="rotate(-90 254 256.1)">6</text>
<text class="t" x="364.65" y="216" text-anchor="middle">NT</text>
<g fill="#ffff00" stroke="#000" stroke-width="1.1"><rect x="535.7" y="361.95" width="13.42" height="6.95"/><rect x="549.12" y="348.97" width="13.43" height="19.93"/><rect x="562.55" y="352.59" width="13.42" height="16.31"/><rect x="575.98" y="361.65" width="13.42" height="7.25"/><rect x="589.4" y="345.04" width="13.43" height="23.86"/><rect x="602.83" y="254.14" width="13.42" height="114.76"/><rect x="616.25" y="316.65" width="13.42" height="52.25"/><rect x="629.67" y="332.66" width="13.43" height="36.24"/><rect x="643.1" y="353.8" width="13.42" height="15.1"/><rect x="656.52" y="362.86" width="13.43" height="6.04"/><rect x="669.95" y="367.39" width="13.42" height="1.51"/></g>
<g clip-path="url(#c_MC)" fill="none" stroke-linejoin="round" stroke-linecap="round">
<path d="M515 368.7 C516.67 368.68 521.92 368.7 525 368.6 C528.08 368.5 531.32 368.47 533.5 368.1 C535.68 367.73 536.57 367.53 538.1 366.4 C539.63 365.27 541.02 363.45 542.7 361.3 C544.38 359.15 546.37 355.72 548.2 353.5 C550.03 351.28 552 349.15 553.7 348 C555.4 346.85 556.85 346.45 558.4 346.6 C559.95 346.75 561.47 347.75 563 348.9 C564.53 350.05 566.22 352.42 567.6 353.5 C568.98 354.58 570.07 354.78 571.3 355.4 C572.53 356.02 573.62 356.28 575 357.2 C576.38 358.12 578.15 359.9 579.6 360.9 C581.05 361.9 582.47 363.52 583.7 363.2 C584.93 362.88 586 361.23 587 359 C588 356.77 588.63 352.02 589.7 349.8 C590.77 347.58 592.02 347 593.4 345.7 C594.78 344.4 596.77 343.47 598 342 C599.23 340.53 600.1 340.05 600.8 336.9 C601.5 333.75 601.8 329.25 602.2 323.1 C602.6 316.95 602.6 310.67 603.2 300 C603.8 289.33 604.97 269.93 605.8 259.1 C606.63 248.27 607.47 239.75 608.2 235 C608.93 230.25 609.47 229.93 610.2 230.6 C610.93 231.27 611.77 233.58 612.6 239 C613.43 244.42 614.27 254.08 615.2 263.1 C616.13 272.12 617.03 284.42 618.2 293.1 C619.37 301.78 620.7 309.18 622.2 315.2 C623.7 321.22 625.53 326.37 627.2 329.2 C628.87 332.03 630.52 331.53 632.2 332.2 C633.88 332.87 635.62 331.7 637.3 333.2 C638.98 334.7 640.63 338.18 642.3 341.2 C643.97 344.22 645.47 348.62 647.3 351.3 C649.13 353.98 651.63 355.8 653.3 357.3 C654.97 358.8 655.47 359.13 657.3 360.3 C659.13 361.47 661.47 363.13 664.3 364.3 C667.13 365.47 670.62 366.6 674.3 367.3 C677.98 368 682.22 368.23 686.4 368.5 C690.58 368.77 697.23 368.83 699.4 368.9" stroke="#1234ff" stroke-width="2.3"/>
<path d="M522.28 368.23 L523.73 368.13 L525.19 368.01 L526.65 367.87 L528.11 367.72 L529.57 367.54 L531.03 367.35 L532.49 367.13 L533.95 366.88 L535.41 366.61 L536.87 366.31 L538.33 365.97 L539.79 365.6 L541.25 365.19 L542.71 364.74 L544.17 364.24 L545.63 363.7 L547.09 363.11 L548.55 362.47 L550.01 361.78 L551.47 361.04 L552.93 360.23 L554.39 359.37 L555.85 358.45 L557.31 357.47 L558.77 356.42 L560.23 355.32 L561.69 354.15 L563.15 352.93 L564.61 351.64 L566.07 350.3 L567.53 348.91 L568.99 347.46 L570.45 345.96 L571.91 344.43 L573.37 342.85 L574.83 341.24 L576.29 339.61 L577.75 337.95 L579.21 336.28 L580.67 334.61 L582.13 332.94 L583.59 331.29 L585.05 329.65 L586.51 328.05 L587.97 326.49 L589.43 324.97 L590.89 323.52 L592.35 322.14 L593.81 320.83 L595.27 319.61 L596.73 318.48 L598.19 317.45 L599.65 316.54 L601.11 315.74 L602.57 315.06 L604.03 314.51 L605.49 314.09 L606.95 313.81 L608.41 313.66 L609.87 313.65 L611.33 313.77 L612.79 314.03 L614.25 314.43 L615.71 314.96 L617.17 315.61 L618.63 316.39 L620.09 317.29 L621.55 318.29 L623.01 319.4 L624.47 320.61 L625.93 321.9 L627.39 323.28 L628.85 324.72 L630.31 326.22 L631.77 327.78 L633.23 329.37 L634.69 331 L636.15 332.66 L637.61 334.32 L639.07 335.99 L640.53 337.66 L641.99 339.32 L643.45 340.96 L644.91 342.57 L646.37 344.16 L647.83 345.7 L649.29 347.21 L650.75 348.66 L652.21 350.07 L653.67 351.42 L655.13 352.71 L656.59 353.95 L658.05 355.12 L659.51 356.24 L660.97 357.29 L662.43 358.28 L663.89 359.22 L665.35 360.09 L666.81 360.9 L668.27 361.66 L669.73 362.36 L671.19 363.01 L672.65 363.6 L674.11 364.15 L675.57 364.65 L677.03 365.11 L678.49 365.53 L679.95 365.91 L681.41 366.25 L682.87 366.56 L684.33 366.84 L685.79 367.09 L687.25 367.31 L688.71 367.51 L690.17 367.69 L691.63 367.85 L693.09 367.99 L694.55 368.11 L696.01 368.22 L697.47 368.31" stroke="#006400" stroke-width="2.3"/>
</g>
<line x1="616.25" y1="225.1" x2="616.25" y2="374.4" stroke="#ff1a10" stroke-width="2.2"/>
<path d="M535.7 374.4 H696.8 M535.7 374.4 V381.7 M562.55 374.4 V381.7 M589.4 374.4 V381.7 M616.25 374.4 V381.7 M643.1 374.4 V381.7 M669.95 374.4 V381.7 M696.8 374.4 V381.7 M515.2 368.9 V248.1 M508.3 368.9 H515.2 M508.3 338.7 H515.2 M508.3 308.5 H515.2 M508.3 278.3 H515.2 M508.3 248.1 H515.2" stroke="#222" stroke-width="1.1" fill="none"/>
<text class="a" x="535.7" y="400.1" text-anchor="middle">-0.6</text>
<text class="a" x="589.4" y="400.1" text-anchor="middle">-0.2</text>
<text class="a" x="643.1" y="400.1" text-anchor="middle">0.2</text>
<text class="a" x="669.95" y="400.1" text-anchor="middle">0.4</text>
<text class="a" x="696.8" y="400.1" text-anchor="middle">0.6</text>
<text class="a" x="498.7" y="368.9" text-anchor="middle" transform="rotate(-90 498.7 368.9)">0</text>
<text class="a" x="498.7" y="338.7" text-anchor="middle" transform="rotate(-90 498.7 338.7)">1</text>
<text class="a" x="498.7" y="308.5" text-anchor="middle" transform="rotate(-90 498.7 308.5)">2</text>
<text class="a" x="498.7" y="278.3" text-anchor="middle" transform="rotate(-90 498.7 278.3)">3</text>
<text class="a" x="498.7" y="248.1" text-anchor="middle" transform="rotate(-90 498.7 248.1)">4</text>
<text class="t" x="609.35" y="216" text-anchor="middle">MC</text>
<g fill="#ffff00" stroke="#000" stroke-width="1.1"><rect x="787.82" y="360.25" width="10.25" height="8.64"/><rect x="798.07" y="351.34" width="10.25" height="17.56"/><rect x="808.32" y="345.69" width="10.25" height="23.2"/><rect x="818.56" y="315.21" width="10.25" height="53.69"/><rect x="828.81" y="232.58" width="10.25" height="136.32"/><rect x="839.06" y="291.09" width="10.25" height="77.81"/><rect x="849.3" y="337.23" width="10.25" height="31.67"/><rect x="859.55" y="346.88" width="10.25" height="22.02"/><rect x="869.8" y="338.6" width="10.25" height="30.3"/><rect x="880.04" y="345.33" width="10.25" height="23.57"/><rect x="890.29" y="351.34" width="10.25" height="17.56"/><rect x="900.54" y="361.26" width="10.25" height="7.64"/><rect x="910.78" y="367.35" width="10.25" height="1.55"/></g>
<g clip-path="url(#c_HASH)" fill="none" stroke-linejoin="round" stroke-linecap="round">
<path d="M764 368.9 C766.5 368.7 775.15 368.3 779 367.7 C782.85 367.1 784.42 367.03 787.1 365.3 C789.78 363.57 792.43 359.8 795.1 357.3 C797.77 354.8 800.77 351.97 803.1 350.3 C805.43 348.63 806.93 348.3 809.1 347.3 C811.27 346.3 814.27 346.98 816.1 344.3 C817.93 341.62 818.77 338.72 820.1 331.2 C821.43 323.68 822.77 311.22 824.1 299.2 C825.43 287.18 826.85 269.8 828.1 259.1 C829.35 248.4 830.58 239.85 831.6 235 C832.62 230.15 833.27 229.67 834.2 230 C835.13 230.33 836.03 231.48 837.2 237 C838.37 242.52 839.87 254.08 841.2 263.1 C842.53 272.12 843.87 282.42 845.2 291.1 C846.53 299.78 847.87 308.02 849.2 315.2 C850.53 322.38 851.53 329.6 853.2 334.2 C854.87 338.8 857.37 340.78 859.2 342.8 C861.03 344.82 862.7 345.55 864.2 346.3 C865.7 347.05 867.03 347.98 868.2 347.3 C869.37 346.62 870.03 343.65 871.2 342.2 C872.37 340.75 873.7 338.6 875.2 338.6 C876.7 338.6 878.52 341.08 880.2 342.2 C881.88 343.32 883.45 344.12 885.3 345.3 C887.15 346.48 889.3 347.63 891.3 349.3 C893.3 350.97 895.3 353.23 897.3 355.3 C899.3 357.37 900.97 359.87 903.3 361.7 C905.63 363.53 907.97 365.2 911.3 366.3 C914.63 367.4 917.22 367.87 923.3 368.3 C929.38 368.73 943.72 368.8 947.8 368.9" stroke="#1234ff" stroke-width="2.3"/>
<path d="M766.2 360.13 L767.67 359.6 L769.13 359.06 L770.6 358.49 L772.06 357.9 L773.53 357.29 L774.99 356.67 L776.46 356.02 L777.93 355.35 L779.39 354.66 L780.86 353.96 L782.32 353.24 L783.79 352.5 L785.25 351.74 L786.72 350.97 L788.18 350.19 L789.65 349.39 L791.11 348.58 L792.58 347.76 L794.04 346.94 L795.51 346.1 L796.97 345.26 L798.44 344.42 L799.9 343.57 L801.37 342.72 L802.83 341.88 L804.3 341.03 L805.77 340.2 L807.23 339.37 L808.7 338.55 L810.16 337.74 L811.63 336.94 L813.09 336.16 L814.56 335.4 L816.02 334.66 L817.49 333.94 L818.95 333.24 L820.42 332.57 L821.88 331.93 L823.35 331.32 L824.81 330.74 L826.28 330.2 L827.74 329.69 L829.21 329.21 L830.67 328.78 L832.14 328.39 L833.61 328.03 L835.07 327.72 L836.54 327.45 L838 327.23 L839.47 327.05 L840.93 326.92 L842.4 326.83 L843.86 326.79 L845.33 326.79 L846.79 326.84 L848.26 326.94 L849.72 327.09 L851.19 327.27 L852.65 327.51 L854.12 327.78 L855.58 328.11 L857.05 328.47 L858.52 328.87 L859.98 329.31 L861.45 329.79 L862.91 330.31 L864.38 330.87 L865.84 331.45 L867.31 332.07 L868.77 332.72 L870.24 333.39 L871.7 334.09 L873.17 334.82 L874.63 335.56 L876.1 336.33 L877.56 337.11 L879.03 337.91 L880.49 338.72 L881.96 339.54 L883.42 340.38 L884.89 341.22 L886.36 342.06 L887.82 342.91 L889.29 343.75 L890.75 344.6 L892.22 345.44 L893.68 346.28 L895.15 347.12 L896.61 347.94 L898.08 348.76 L899.54 349.56 L901.01 350.36 L902.47 351.14 L903.94 351.91 L905.4 352.66 L906.87 353.39 L908.33 354.11 L909.8 354.81 L911.26 355.5 L912.73 356.16 L914.2 356.8 L915.66 357.43 L917.13 358.03 L918.59 358.61 L920.06 359.18 L921.52 359.72 L922.99 360.24 L924.45 360.74 L925.92 361.22 L927.38 361.68 L928.85 362.12 L930.31 362.54 L931.78 362.94 L933.24 363.32 L934.71 363.69 L936.17 364.03 L937.64 364.36 L939.11 364.67 L940.57 364.96 L942.04 365.24" stroke="#006400" stroke-width="2.3"/>
</g>
<line x1="808.32" y1="225.1" x2="808.32" y2="374.4" stroke="#ff1a10" stroke-width="2.2"/>
<path d="M782.7 374.4 H936.4 M782.7 374.4 V381.7 M808.32 374.4 V381.7 M833.93 374.4 V381.7 M859.55 374.4 V381.7 M885.17 374.4 V381.7 M910.78 374.4 V381.7 M936.4 374.4 V381.7 M759.9 368.9 V232.4 M753 368.9 H759.9 M753 323.4 H759.9 M753 277.9 H759.9 M753 232.4 H759.9" stroke="#222" stroke-width="1.1" fill="none"/>
<text class="a" x="782.7" y="400.1" text-anchor="middle">-0.05</text>
<text class="a" x="833.93" y="400.1" text-anchor="middle">0.05</text>
<text class="a" x="885.17" y="400.1" text-anchor="middle">0.15</text>
<text class="a" x="936.4" y="400.1" text-anchor="middle">0.25</text>
<text class="a" x="743.4" y="368.9" text-anchor="middle" transform="rotate(-90 743.4 368.9)">0</text>
<text class="a" x="743.4" y="323.4" text-anchor="middle" transform="rotate(-90 743.4 323.4)">5</text>
<text class="a" x="743.4" y="277.9" text-anchor="middle" transform="rotate(-90 743.4 277.9)">10</text>
<text class="a" x="743.4" y="232.4" text-anchor="middle" transform="rotate(-90 743.4 232.4)">15</text>
<text class="t" x="854.05" y="216" text-anchor="middle">HASH</text>
<g fill="#ffff00" stroke="#000" stroke-width="1.1"><rect x="1025.7" y="357.28" width="13.37" height="11.62"/><rect x="1039.07" y="319.6" width="13.37" height="49.3"/><rect x="1052.44" y="301.58" width="13.37" height="67.32"/><rect x="1065.8" y="264.55" width="13.37" height="104.35"/><rect x="1079.17" y="273.13" width="13.37" height="95.77"/><rect x="1092.54" y="324.16" width="13.37" height="44.74"/><rect x="1105.91" y="358.69" width="13.37" height="10.21"/><rect x="1119.28" y="368.9" width="13.37" height="0"/><rect x="1132.64" y="368.9" width="13.37" height="0"/><rect x="1146.01" y="361.95" width="13.37" height="6.95"/><rect x="1159.38" y="230.67" width="13.37" height="138.23"/><rect x="1172.75" y="354.89" width="13.37" height="14.01"/></g>
<g clip-path="url(#c_GSVI)" fill="none" stroke-linejoin="round" stroke-linecap="round">
<path d="M1005 368.9 C1006.83 368.8 1013.42 368.57 1016 368.3 C1018.58 368.03 1019.12 368.27 1020.5 367.3 C1021.88 366.33 1022.97 364.68 1024.3 362.5 C1025.63 360.32 1026.88 357.43 1028.5 354.2 C1030.12 350.97 1032.17 347.1 1034 343.1 C1035.83 339.1 1037.35 334.82 1039.5 330.2 C1041.65 325.58 1044.43 319.4 1046.9 315.4 C1049.37 311.4 1052 308.97 1054.3 306.2 C1056.6 303.43 1058.85 301.57 1060.7 298.8 C1062.55 296.03 1063.7 293.9 1065.4 289.6 C1067.1 285.3 1069.38 277.18 1070.9 273 C1072.42 268.82 1073.43 266.5 1074.5 264.5 C1075.57 262.5 1076.3 261.17 1077.3 261 C1078.3 260.83 1079.42 262.12 1080.5 263.5 C1081.58 264.88 1082.33 264.95 1083.8 269.3 C1085.27 273.65 1087.45 282.83 1089.3 289.6 C1091.15 296.37 1092.73 302.83 1094.9 309.9 C1097.07 316.97 1099.85 325.23 1102.3 332 C1104.75 338.77 1107.15 345.27 1109.6 350.5 C1112.05 355.73 1114.57 360.43 1117 363.4 C1119.43 366.37 1120.98 367.48 1124.2 368.3 C1127.42 369.12 1132.78 368.63 1136.3 368.3 C1139.82 367.97 1142.8 368.13 1145.3 366.3 C1147.8 364.47 1149.47 363.15 1151.3 357.3 C1153.13 351.45 1154.8 340.88 1156.3 331.2 C1157.8 321.52 1158.97 309.22 1160.3 299.2 C1161.63 289.18 1163 277.03 1164.3 271.1 C1165.6 265.17 1166.77 263.27 1168.1 263.6 C1169.43 263.93 1170.92 267.17 1172.3 273.1 C1173.68 279.03 1175.05 289.52 1176.4 299.2 C1177.75 308.88 1179.07 321.85 1180.4 331.2 C1181.73 340.55 1183.07 349.78 1184.4 355.3 C1185.73 360.82 1186.88 362.13 1188.4 364.3 C1189.92 366.47 1192.65 367.63 1193.5 368.3" stroke="#1234ff" stroke-width="2.3"/>
<path d="M1011.06 368.88 L1012.53 368.88 L1013.99 368.87 L1015.46 368.86 L1016.92 368.85 L1018.39 368.83 L1019.85 368.81 L1021.32 368.78 L1022.78 368.75 L1024.25 368.71 L1025.71 368.65 L1027.18 368.58 L1028.64 368.5 L1030.11 368.39 L1031.57 368.26 L1033.04 368.1 L1034.5 367.91 L1035.97 367.67 L1037.43 367.38 L1038.9 367.03 L1040.36 366.62 L1041.83 366.12 L1043.29 365.54 L1044.75 364.85 L1046.22 364.05 L1047.68 363.11 L1049.15 362.03 L1050.61 360.78 L1052.08 359.35 L1053.54 357.72 L1055.01 355.88 L1056.47 353.8 L1057.94 351.48 L1059.4 348.9 L1060.87 346.05 L1062.33 342.91 L1063.8 339.48 L1065.26 335.77 L1066.73 331.76 L1068.19 327.46 L1069.66 322.89 L1071.12 318.06 L1072.59 312.99 L1074.05 307.71 L1075.52 302.25 L1076.98 296.65 L1078.45 290.95 L1079.91 285.21 L1081.38 279.47 L1082.84 273.8 L1084.31 268.25 L1085.77 262.89 L1087.24 257.78 L1088.7 252.98 L1090.17 248.55 L1091.63 244.54 L1093.1 241.02 L1094.56 238.03 L1096.03 235.61 L1097.49 233.79 L1098.96 232.61 L1100.42 232.07 L1101.89 232.18 L1103.35 232.95 L1104.82 234.36 L1106.28 236.4 L1107.75 239.03 L1109.21 242.21 L1110.68 245.91 L1112.14 250.07 L1113.61 254.64 L1115.07 259.56 L1116.54 264.76 L1118 270.2 L1119.47 275.8 L1120.93 281.5 L1122.4 287.24 L1123.86 292.97 L1125.33 298.64 L1126.79 304.19 L1128.25 309.6 L1129.72 314.81 L1131.18 319.79 L1132.65 324.54 L1134.11 329.01 L1135.58 333.21 L1137.04 337.11 L1138.51 340.73 L1139.97 344.05 L1141.44 347.09 L1142.9 349.84 L1144.37 352.33 L1145.83 354.56 L1147.3 356.56 L1148.76 358.32 L1150.23 359.88 L1151.69 361.24 L1153.16 362.43 L1154.62 363.46 L1156.09 364.35 L1157.55 365.11 L1159.02 365.76 L1160.48 366.31 L1161.95 366.77 L1163.41 367.16 L1164.88 367.49 L1166.34 367.76 L1167.81 367.98 L1169.27 368.16 L1170.74 368.31 L1172.2 368.43 L1173.67 368.53 L1175.13 368.61 L1176.6 368.67 L1178.06 368.72 L1179.53 368.76 L1180.99 368.79 L1182.46 368.82 L1183.92 368.84 L1185.39 368.85 L1186.85 368.86" stroke="#006400" stroke-width="2.3"/>
</g>
<line x1="1159.38" y1="225.1" x2="1159.38" y2="374.4" stroke="#ff1a10" stroke-width="2.2"/>
<path d="M1025.7 374.4 H1192.8 M1025.7 374.4 V381.7 M1059.12 374.4 V381.7 M1092.54 374.4 V381.7 M1125.96 374.4 V381.7 M1159.38 374.4 V381.7 M1192.8 374.4 V381.7 M1004.6 368.9 V238.6 M997.7 368.9 H1004.6 M997.7 347.18 H1004.6 M997.7 325.47 H1004.6 M997.7 303.75 H1004.6 M997.7 282.03 H1004.6 M997.7 260.32 H1004.6 M997.7 238.6 H1004.6" stroke="#222" stroke-width="1.1" fill="none"/>
<text class="a" x="1025.7" y="400.1" text-anchor="middle">-2.0</text>
<text class="a" x="1059.12" y="400.1" text-anchor="middle">-1.5</text>
<text class="a" x="1092.54" y="400.1" text-anchor="middle">-1.0</text>
<text class="a" x="1125.96" y="400.1" text-anchor="middle">-0.5</text>
<text class="a" x="1159.38" y="400.1" text-anchor="middle">0.0</text>
<text class="a" x="1192.8" y="400.1" text-anchor="middle">0.5</text>
<text class="a" x="988.1" y="368.9" text-anchor="middle" transform="rotate(-90 988.1 368.9)">0.0</text>
<text class="a" x="988.1" y="325.47" text-anchor="middle" transform="rotate(-90 988.1 325.47)">0.4</text>
<text class="a" x="988.1" y="282.03" text-anchor="middle" transform="rotate(-90 988.1 282.03)">0.8</text>
<text class="a" x="988.1" y="238.6" text-anchor="middle" transform="rotate(-90 988.1 238.6)">1.2</text>
<text class="t" x="1098.75" y="216" text-anchor="middle">GSVI</text>
<g fill="#ffff00" stroke="#000" stroke-width="1.1"><rect x="45.99" y="570.32" width="13.42" height="4.58"/><rect x="59.41" y="538.79" width="13.42" height="36.11"/><rect x="72.83" y="461.13" width="13.42" height="113.77"/><rect x="86.25" y="522.6" width="13.42" height="52.3"/><rect x="99.67" y="562.67" width="13.42" height="12.23"/><rect x="113.09" y="567.71" width="13.42" height="7.19"/><rect x="126.51" y="570.32" width="13.42" height="4.58"/><rect x="139.93" y="568.28" width="13.42" height="6.62"/><rect x="153.35" y="559.28" width="13.42" height="15.62"/><rect x="166.77" y="552.32" width="13.42" height="22.58"/><rect x="180.19" y="567.71" width="13.42" height="7.19"/></g>
<g clip-path="url(#c_USM)" fill="none" stroke-linejoin="round" stroke-linecap="round">
<path d="M35 574.9 C37.02 574.57 43.58 574.17 47.1 572.9 C50.62 571.63 53.93 570.57 56.1 567.3 C58.27 564.03 58.77 558.32 60.1 553.3 C61.43 548.28 62.77 540.88 64.1 537.2 C65.43 533.52 66.87 532.7 68.1 531.2 C69.33 529.7 70.5 531.87 71.5 528.2 C72.5 524.53 73.23 518.05 74.1 509.2 C74.97 500.35 75.8 485.8 76.7 475.1 C77.6 464.4 78.6 451.52 79.5 445 C80.4 438.48 81.23 435.67 82.1 436 C82.97 436.33 83.8 440.48 84.7 447 C85.6 453.52 86.6 465.4 87.5 475.1 C88.4 484.8 89.17 496.18 90.1 505.2 C91.03 514.22 91.92 522.87 93.1 529.2 C94.28 535.53 95.85 538.85 97.2 543.2 C98.55 547.55 99.87 551.78 101.2 555.3 C102.53 558.82 103.53 562.37 105.2 564.3 C106.87 566.23 108.87 566.4 111.2 566.9 C113.53 567.4 116.53 566.83 119.2 567.3 C121.87 567.77 124.53 569.3 127.2 569.7 C129.87 570.1 132.53 570.03 135.2 569.7 C137.87 569.37 140.52 568.43 143.2 567.7 C145.88 566.97 148.95 566.7 151.3 565.3 C153.65 563.9 155.3 560.8 157.3 559.3 C159.3 557.8 161.18 557.35 163.3 556.3 C165.42 555.25 168.05 553.92 170 553 C171.95 552.08 173.33 550.55 175 550.8 C176.67 551.05 178.33 552.33 180 554.5 C181.67 556.67 183.33 561.05 185 563.8 C186.67 566.55 188.28 569.25 190 571 C191.72 572.75 192.4 573.65 195.3 574.3 C198.2 574.95 205.38 574.8 207.4 574.9" stroke="#1234ff" stroke-width="2.3"/>
<path d="M32.17 574.37 L33.63 574.24 L35.1 574.09 L36.56 573.92 L38.03 573.7 L39.49 573.45 L40.96 573.15 L42.42 572.8 L43.89 572.4 L45.35 571.93 L46.82 571.38 L48.28 570.75 L49.75 570.04 L51.21 569.23 L52.68 568.31 L54.14 567.28 L55.61 566.13 L57.07 564.86 L58.54 563.45 L60 561.9 L61.47 560.21 L62.93 558.38 L64.4 556.4 L65.86 554.28 L67.33 552.03 L68.79 549.64 L70.26 547.14 L71.72 544.52 L73.19 541.81 L74.65 539.03 L76.12 536.19 L77.58 533.31 L79.05 530.43 L80.51 527.57 L81.98 524.75 L83.44 522.01 L84.91 519.37 L86.37 516.87 L87.84 514.54 L89.3 512.4 L90.77 510.48 L92.23 508.81 L93.7 507.4 L95.16 506.28 L96.63 505.47 L98.09 504.96 L99.56 504.78 L101.02 504.91 L102.49 505.37 L103.95 506.14 L105.42 507.21 L106.88 508.58 L108.35 510.21 L109.81 512.09 L111.28 514.2 L112.74 516.51 L114.21 518.98 L115.67 521.6 L117.14 524.33 L118.6 527.13 L120.07 529.99 L121.53 532.87 L123 535.75 L124.46 538.6 L125.93 541.39 L127.39 544.11 L128.86 546.74 L130.32 549.27 L131.79 551.67 L133.25 553.95 L134.72 556.09 L136.18 558.08 L137.65 559.94 L139.11 561.65 L140.58 563.22 L142.04 564.65 L143.51 565.95 L144.97 567.12 L146.44 568.16 L147.9 569.1 L149.37 569.92 L150.83 570.65 L152.3 571.29 L153.76 571.85 L155.23 572.33 L156.69 572.75 L158.16 573.1 L159.62 573.41 L161.09 573.67 L162.55 573.88 L164.02 574.07 L165.48 574.22 L166.95 574.35 L168.41 574.46 L169.88 574.54 L171.34 574.61 L172.81 574.67 L174.27 574.72 L175.74 574.76 L177.2 574.79 L178.67 574.81 L180.13 574.83 L181.6 574.85 L183.06 574.86 L184.53 574.87 L185.99 574.88 L187.46 574.88 L188.92 574.89 L190.39 574.89 L191.85 574.89 L193.32 574.89 L194.78 574.9 L196.25 574.9 L197.71 574.9 L199.18 574.9 L200.64 574.9 L202.11 574.9 L203.57 574.9 L205.04 574.9 L206.5 574.9 L207.97 574.9" stroke="#006400" stroke-width="2.3"/>
</g>
<line x1="86.25" y1="431.2" x2="86.25" y2="580.5" stroke="#ff1a10" stroke-width="2.2"/>
<path d="M52.7 580.5 H186.9 M52.7 580.5 V587.8 M86.25 580.5 V587.8 M119.8 580.5 V587.8 M153.35 580.5 V587.8 M186.9 580.5 V587.8 M25.8 574.9 V433.4 M18.9 574.9 H25.8 M18.9 546.6 H25.8 M18.9 518.3 H25.8 M18.9 490 H25.8 M18.9 461.7 H25.8 M18.9 433.4 H25.8" stroke="#222" stroke-width="1.1" fill="none"/>
<text class="a" x="52.7" y="606.2" text-anchor="middle">-0.5</text>
<text class="a" x="86.25" y="606.2" text-anchor="middle">0.0</text>
<text class="a" x="119.8" y="606.2" text-anchor="middle">0.5</text>
<text class="a" x="153.35" y="606.2" text-anchor="middle">1.0</text>
<text class="a" x="186.9" y="606.2" text-anchor="middle">1.5</text>
<text class="a" x="9.3" y="574.9" text-anchor="middle" transform="rotate(-90 9.3 574.9)">0.0</text>
<text class="a" x="9.3" y="546.6" text-anchor="middle" transform="rotate(-90 9.3 546.6)">0.5</text>
<text class="a" x="9.3" y="518.3" text-anchor="middle" transform="rotate(-90 9.3 518.3)">1.0</text>
<text class="a" x="9.3" y="490" text-anchor="middle" transform="rotate(-90 9.3 490)">1.5</text>
<text class="a" x="9.3" y="461.7" text-anchor="middle" transform="rotate(-90 9.3 461.7)">2.0</text>
<text class="a" x="9.3" y="433.4" text-anchor="middle" transform="rotate(-90 9.3 433.4)">2.5</text>
<text class="t" x="119.95" y="422.1" text-anchor="middle">USM</text>
<g fill="#ffff00" stroke="#000" stroke-width="1.1"><rect x="315.3" y="571.91" width="12.4" height="2.99"/><rect x="327.7" y="566.69" width="12.4" height="8.21"/><rect x="340.1" y="556.24" width="12.4" height="18.66"/><rect x="352.5" y="442.04" width="12.4" height="132.86"/><rect x="364.9" y="491.05" width="12.4" height="83.85"/><rect x="377.3" y="532.11" width="12.4" height="42.79"/><rect x="389.7" y="507.72" width="12.4" height="67.18"/><rect x="402.1" y="510.71" width="12.4" height="64.19"/><rect x="414.5" y="514.19" width="12.4" height="60.71"/><rect x="426.9" y="560.97" width="12.4" height="13.93"/></g>
<g clip-path="url(#c_ESM)" fill="none" stroke-linejoin="round" stroke-linecap="round">
<path d="M276 574.9 C279.92 574.88 293.12 575.07 299.5 574.8 C305.88 574.53 310.68 573.87 314.3 573.3 C317.92 572.73 319.07 572.13 321.2 571.4 C323.33 570.67 324.97 569.65 327.1 568.9 C329.23 568.15 332.03 567.72 334 566.9 C335.97 566.08 337.27 565.47 338.9 564 C340.53 562.53 342.32 560.9 343.8 558.1 C345.28 555.3 346.82 551.15 347.8 547.2 C348.78 543.25 349.13 538.98 349.7 534.4 C350.27 529.82 350.7 525.43 351.2 519.7 C351.7 513.97 351.93 508.8 352.7 500 C353.47 491.2 354.88 476.73 355.8 466.9 C356.72 457.07 357.57 446.05 358.2 441 C358.83 435.95 358.93 435.93 359.6 436.6 C360.27 437.27 361.27 439.58 362.2 445 C363.13 450.42 364.03 462.75 365.2 469.1 C366.37 475.45 367.87 479.1 369.2 483.1 C370.53 487.1 371.87 488.42 373.2 493.1 C374.53 497.78 375.93 505.68 377.2 511.2 C378.47 516.72 379.63 523.03 380.8 526.2 C381.97 529.37 383.07 530.37 384.2 530.2 C385.33 530.03 386.43 527.7 387.6 525.2 C388.77 522.7 389.75 518.37 391.2 515.2 C392.65 512.03 394.62 508.13 396.3 506.2 C397.98 504.27 399.63 503.37 401.3 503.6 C402.97 503.83 404.63 506.33 406.3 507.6 C407.97 508.87 409.47 510.77 411.3 511.2 C413.13 511.63 415.63 509.2 417.3 510.2 C418.97 511.2 419.97 513.37 421.3 517.2 C422.63 521.03 423.97 527.52 425.3 533.2 C426.63 538.88 427.97 546.28 429.3 551.3 C430.63 556.32 431.63 559.97 433.3 563.3 C434.97 566.63 437.28 569.47 439.3 571.3 C441.32 573.13 442.72 573.7 445.4 574.3 C448.08 574.9 453.73 574.8 455.4 574.9" stroke="#1234ff" stroke-width="2.3"/>
<path d="M277.48 570.19 L278.94 569.88 L280.4 569.55 L281.86 569.2 L283.32 568.83 L284.78 568.45 L286.24 568.05 L287.7 567.63 L289.16 567.2 L290.62 566.74 L292.08 566.27 L293.54 565.77 L295 565.26 L296.46 564.72 L297.92 564.17 L299.38 563.6 L300.84 563 L302.3 562.39 L303.76 561.75 L305.22 561.1 L306.68 560.43 L308.14 559.73 L309.6 559.02 L311.06 558.29 L312.52 557.54 L313.98 556.78 L315.44 555.99 L316.9 555.19 L318.36 554.38 L319.82 553.55 L321.28 552.71 L322.74 551.85 L324.2 550.99 L325.66 550.11 L327.12 549.22 L328.58 548.33 L330.04 547.42 L331.5 546.52 L332.96 545.61 L334.42 544.7 L335.88 543.78 L337.34 542.87 L338.8 541.96 L340.26 541.06 L341.72 540.16 L343.18 539.27 L344.64 538.38 L346.1 537.51 L347.56 536.66 L349.02 535.82 L350.49 534.99 L351.95 534.19 L353.41 533.41 L354.87 532.64 L356.33 531.91 L357.79 531.2 L359.25 530.52 L360.71 529.86 L362.17 529.24 L363.63 528.65 L365.09 528.1 L366.55 527.58 L368.01 527.1 L369.47 526.65 L370.93 526.25 L372.39 525.88 L373.85 525.56 L375.31 525.28 L376.77 525.04 L378.23 524.85 L379.69 524.7 L381.15 524.59 L382.61 524.53 L384.07 524.52 L385.53 524.55 L386.99 524.62 L388.45 524.74 L389.91 524.9 L391.37 525.11 L392.83 525.36 L394.29 525.65 L395.75 525.99 L397.21 526.37 L398.67 526.78 L400.13 527.24 L401.59 527.73 L403.05 528.26 L404.51 528.83 L405.97 529.42 L407.43 530.06 L408.89 530.72 L410.35 531.41 L411.81 532.13 L413.27 532.87 L414.73 533.64 L416.19 534.43 L417.65 535.24 L419.11 536.07 L420.57 536.92 L422.03 537.78 L423.49 538.65 L424.95 539.53 L426.41 540.43 L427.87 541.33 L429.33 542.23 L430.79 543.14 L432.25 544.06 L433.71 544.97 L435.17 545.88 L436.63 546.79 L438.09 547.7 L439.55 548.6 L441.01 549.49 L442.47 550.37 L443.93 551.25 L445.39 552.11 L446.85 552.96 L448.31 553.8 L449.77 554.63 L451.23 555.44 L452.69 556.23" stroke="#006400" stroke-width="2.3"/>
</g>
<line x1="340.1" y1="431.2" x2="340.1" y2="580.5" stroke="#ff1a10" stroke-width="2.2"/>
<path d="M290.5 580.5 H439.3 M290.5 580.5 V587.8 M315.3 580.5 V587.8 M340.1 580.5 V587.8 M364.9 580.5 V587.8 M389.7 580.5 V587.8 M414.5 580.5 V587.8 M439.3 580.5 V587.8 M270.5 574.9 V450.5 M263.6 574.9 H270.5 M263.6 550.02 H270.5 M263.6 525.14 H270.5 M263.6 500.26 H270.5 M263.6 475.38 H270.5 M263.6 450.5 H270.5" stroke="#222" stroke-width="1.1" fill="none"/>
<text class="a" x="290.5" y="606.2" text-anchor="middle">-0.2</text>
<text class="a" x="340.1" y="606.2" text-anchor="middle">0.0</text>
<text class="a" x="389.7" y="606.2" text-anchor="middle">0.2</text>
<text class="a" x="439.3" y="606.2" text-anchor="middle">0.4</text>
<text class="a" x="254" y="574.9" text-anchor="middle" transform="rotate(-90 254 574.9)">0</text>
<text class="a" x="254" y="550.02" text-anchor="middle" transform="rotate(-90 254 550.02)">1</text>
<text class="a" x="254" y="525.14" text-anchor="middle" transform="rotate(-90 254 525.14)">2</text>
<text class="a" x="254" y="500.26" text-anchor="middle" transform="rotate(-90 254 500.26)">3</text>
<text class="a" x="254" y="475.38" text-anchor="middle" transform="rotate(-90 254 475.38)">4</text>
<text class="a" x="254" y="450.5" text-anchor="middle" transform="rotate(-90 254 450.5)">5</text>
<text class="t" x="364.65" y="422.1" text-anchor="middle">ESM</text>
<g fill="#ffff00" stroke="#000" stroke-width="1.1"><rect x="553.93" y="568.31" width="15.83" height="6.59"/><rect x="569.76" y="559.91" width="15.83" height="14.99"/><rect x="585.59" y="547.19" width="15.83" height="27.71"/><rect x="601.42" y="530.19" width="15.83" height="44.71"/><rect x="617.25" y="463.13" width="15.83" height="111.77"/><rect x="633.08" y="494.08" width="15.83" height="80.82"/><rect x="648.91" y="516.2" width="15.83" height="58.7"/><rect x="664.74" y="541.6" width="15.83" height="33.3"/><rect x="680.57" y="570.31" width="15.83" height="4.59"/></g>
<g clip-path="url(#c_EXRATE)" fill="none" stroke-linejoin="round" stroke-linecap="round">
<path d="M515 574.9 C517.5 574.8 524.82 574.57 530 574.3 C535.18 574.03 541.75 573.97 546.1 573.3 C550.45 572.63 553.78 570.93 556.1 570.3 C558.42 569.67 557.5 570.75 560 569.5 C562.5 568.25 567.1 565.13 571.1 562.8 C575.1 560.47 579.7 558.57 584 555.5 C588.3 552.43 592.9 548.1 596.9 544.4 C600.9 540.7 604.92 536.83 608 533.3 C611.08 529.77 613.57 527.5 615.4 523.2 C617.23 518.9 617.78 515.35 619 507.5 C620.22 499.65 621.62 485.33 622.7 476.1 C623.78 466.87 624.57 458.4 625.5 452.1 C626.43 445.8 627.43 440.9 628.3 438.3 C629.17 435.7 629.78 435.42 630.7 436.5 C631.62 437.58 632.82 439.73 633.8 444.8 C634.78 449.87 635.68 459.53 636.6 466.9 C637.52 474.27 638.23 481.93 639.3 489 C640.37 496.07 641.62 504.53 643 509.3 C644.38 514.07 646.05 516.52 647.6 517.6 C649.15 518.68 650.3 516.1 652.3 515.8 C654.3 515.5 657.62 515.03 659.6 515.8 C661.58 516.57 662.35 516.55 664.2 520.4 C666.05 524.25 668.38 532.75 670.7 538.9 C673.02 545.05 675.63 552.38 678.1 557.3 C680.57 562.22 682.43 565.63 685.5 568.4 C688.57 571.17 693.62 572.82 696.5 573.9 C699.38 574.98 701.75 574.73 702.8 574.9" stroke="#1234ff" stroke-width="2.3"/>
<path d="M522.27 569.17 L523.73 568.84 L525.19 568.49 L526.65 568.13 L528.12 567.76 L529.58 567.37 L531.04 566.96 L532.5 566.54 L533.96 566.11 L535.42 565.66 L536.89 565.19 L538.35 564.71 L539.81 564.21 L541.27 563.7 L542.73 563.17 L544.19 562.62 L545.66 562.06 L547.12 561.48 L548.58 560.89 L550.04 560.29 L551.5 559.67 L552.96 559.03 L554.43 558.38 L555.89 557.72 L557.35 557.05 L558.81 556.36 L560.27 555.66 L561.73 554.95 L563.2 554.23 L564.66 553.5 L566.12 552.76 L567.58 552.02 L569.04 551.26 L570.5 550.51 L571.97 549.74 L573.43 548.97 L574.89 548.2 L576.35 547.43 L577.81 546.65 L579.27 545.88 L580.74 545.11 L582.2 544.34 L583.66 543.57 L585.12 542.81 L586.58 542.06 L588.04 541.32 L589.51 540.58 L590.97 539.86 L592.43 539.14 L593.89 538.44 L595.35 537.76 L596.81 537.09 L598.28 536.44 L599.74 535.81 L601.2 535.2 L602.66 534.61 L604.12 534.04 L605.58 533.5 L607.04 532.98 L608.51 532.48 L609.97 532.02 L611.43 531.58 L612.89 531.17 L614.35 530.79 L615.81 530.45 L617.28 530.13 L618.74 529.84 L620.2 529.59 L621.66 529.38 L623.12 529.19 L624.58 529.04 L626.05 528.93 L627.51 528.85 L628.97 528.8 L630.43 528.79 L631.89 528.82 L633.35 528.88 L634.82 528.98 L636.28 529.11 L637.74 529.28 L639.2 529.48 L640.66 529.71 L642.12 529.98 L643.59 530.28 L645.05 530.61 L646.51 530.98 L647.97 531.37 L649.43 531.79 L650.89 532.24 L652.36 532.72 L653.82 533.23 L655.28 533.76 L656.74 534.32 L658.2 534.9 L659.66 535.5 L661.13 536.12 L662.59 536.76 L664.05 537.42 L665.51 538.09 L666.97 538.79 L668.43 539.49 L669.9 540.21 L671.36 540.94 L672.82 541.68 L674.28 542.43 L675.74 543.19 L677.2 543.95 L678.67 544.72 L680.13 545.49 L681.59 546.26 L683.05 547.03 L684.51 547.81 L685.97 548.58 L687.43 549.35 L688.9 550.12 L690.36 550.88 L691.82 551.64 L693.28 552.39 L694.74 553.13 L696.2 553.86 L697.67 554.59" stroke="#006400" stroke-width="2.3"/>
</g>
<line x1="633.08" y1="431.2" x2="633.08" y2="580.5" stroke="#ff1a10" stroke-width="2.2"/>
<path d="M538.1 580.5 H696.4 M538.1 580.5 V587.8 M569.76 580.5 V587.8 M601.42 580.5 V587.8 M633.08 580.5 V587.8 M664.74 580.5 V587.8 M696.4 580.5 V587.8 M515.2 574.9 V440 M508.3 574.9 H515.2 M508.3 555.63 H515.2 M508.3 536.36 H515.2 M508.3 517.09 H515.2 M508.3 497.81 H515.2 M508.3 478.54 H515.2 M508.3 459.27 H515.2 M508.3 440 H515.2" stroke="#222" stroke-width="1.1" fill="none"/>
<text class="a" x="538.1" y="606.2" text-anchor="middle">-0.06</text>
<text class="a" x="601.42" y="606.2" text-anchor="middle">-0.02</text>
<text class="a" x="664.74" y="606.2" text-anchor="middle">0.02</text>
<text class="a" x="498.7" y="574.9" text-anchor="middle" transform="rotate(-90 498.7 574.9)">0</text>
<text class="a" x="498.7" y="555.63" text-anchor="middle" transform="rotate(-90 498.7 555.63)">5</text>
<text class="a" x="498.7" y="517.09" text-anchor="middle" transform="rotate(-90 498.7 517.09)">15</text>
<text class="a" x="498.7" y="478.54" text-anchor="middle" transform="rotate(-90 498.7 478.54)">25</text>
<text class="a" x="498.7" y="440" text-anchor="middle" transform="rotate(-90 498.7 440)">35</text>
<text class="t" x="609.35" y="422.1" text-anchor="middle">EXRATE</text>
<g fill="#ffff00" stroke="#000" stroke-width="1.1"><rect x="780.7" y="559.31" width="13.39" height="15.59"/><rect x="794.09" y="475.52" width="13.39" height="99.38"/><rect x="807.48" y="490.72" width="13.39" height="84.18"/><rect x="820.88" y="513.2" width="13.39" height="61.7"/><rect x="834.27" y="491.69" width="13.39" height="83.21"/><rect x="847.66" y="574.9" width="13.39" height="0"/><rect x="861.05" y="570.7" width="13.39" height="4.2"/><rect x="874.44" y="551.71" width="13.39" height="23.19"/><rect x="887.83" y="524.59" width="13.39" height="50.31"/><rect x="901.23" y="560.28" width="13.39" height="14.62"/><rect x="914.62" y="570.88" width="13.39" height="4.02"/><rect x="928.01" y="573.57" width="13.39" height="1.33"/></g>
<g clip-path="url(#c_TSD)" fill="none" stroke-linejoin="round" stroke-linecap="round">
<path d="M767 574.9 C767.58 574.73 768.37 574.68 770.5 573.9 C772.63 573.12 777.33 572.05 779.8 570.2 C782.27 568.35 783.47 566.48 785.3 562.8 C787.13 559.12 789.42 553.32 790.8 548.1 C792.18 542.88 792.83 537.35 793.6 531.5 C794.37 525.65 794.78 519.15 795.4 513 C796.02 506.85 796.58 501.37 797.3 494.6 C798.02 487.83 798.78 478.5 799.7 472.4 C800.62 466.3 801.75 458.92 802.8 458 C803.85 457.08 804.92 463.73 806 466.9 C807.08 470.07 808.2 475 809.3 477 C810.4 479 811.53 476.9 812.6 478.9 C813.67 480.9 814.57 483.62 815.7 489 C816.83 494.38 818.25 505.05 819.4 511.2 C820.55 517.35 821.37 525.9 822.6 525.9 C823.83 525.9 825.63 517.95 826.8 511.2 C827.97 504.45 828.68 495.25 829.6 485.4 C830.52 475.55 831.45 460.25 832.3 452.1 C833.15 443.95 833.87 437.1 834.7 436.5 C835.53 435.9 836.47 440.35 837.3 448.5 C838.13 456.65 838.83 471.57 839.7 485.4 C840.57 499.23 841.57 518.6 842.5 531.5 C843.43 544.4 844.23 555.88 845.3 562.8 C846.37 569.72 846.92 571.08 848.9 573 C850.88 574.92 854.48 574.32 857.2 574.3 C859.92 574.28 862.53 574.07 865.2 572.9 C867.87 571.73 870.68 570.57 873.2 567.3 C875.72 564.03 878.28 558.98 880.3 553.3 C882.32 547.62 883.87 538.22 885.3 533.2 C886.73 528.18 887.83 525.47 888.9 523.2 C889.97 520.93 890.63 519.27 891.7 519.6 C892.77 519.93 894.03 521.6 895.3 525.2 C896.57 528.8 897.8 535.85 899.3 541.2 C900.8 546.55 902.47 553.28 904.3 557.3 C906.13 561.32 908.13 563.23 910.3 565.3 C912.47 567.37 914.47 568.53 917.3 569.7 C920.13 570.87 922.22 571.43 927.3 572.3 C932.38 573.17 944.38 574.47 947.8 574.9" stroke="#1234ff" stroke-width="2.3"/>
<path d="M767.04 574.49 L768.5 574.38 L769.96 574.24 L771.41 574.07 L772.87 573.86 L774.33 573.6 L775.79 573.29 L777.24 572.92 L778.7 572.47 L780.16 571.93 L781.62 571.29 L783.07 570.55 L784.53 569.67 L785.99 568.65 L787.44 567.47 L788.9 566.11 L790.36 564.56 L791.82 562.8 L793.27 560.81 L794.73 558.59 L796.19 556.11 L797.65 553.37 L799.1 550.36 L800.56 547.07 L802.02 543.51 L803.48 539.68 L804.93 535.59 L806.39 531.26 L807.85 526.7 L809.31 521.94 L810.76 517.02 L812.22 511.97 L813.68 506.85 L815.14 501.69 L816.59 496.55 L818.05 491.49 L819.51 486.57 L820.97 481.85 L822.42 477.39 L823.88 473.25 L825.34 469.5 L826.8 466.18 L828.25 463.34 L829.71 461.03 L831.17 459.28 L832.63 458.12 L834.08 457.56 L835.54 457.62 L837 458.3 L838.46 459.58 L839.91 461.44 L841.37 463.86 L842.83 466.8 L844.29 470.21 L845.74 474.04 L847.2 478.25 L848.66 482.76 L850.12 487.53 L851.57 492.48 L853.03 497.56 L854.49 502.7 L855.95 507.86 L857.4 512.98 L858.86 518 L860.32 522.89 L861.78 527.61 L863.23 532.13 L864.69 536.42 L866.15 540.46 L867.61 544.24 L869.06 547.74 L870.52 550.98 L871.98 553.93 L873.44 556.62 L874.89 559.05 L876.35 561.23 L877.81 563.17 L879.26 564.88 L880.72 566.39 L882.18 567.71 L883.64 568.86 L885.09 569.85 L886.55 570.7 L888.01 571.43 L889.47 572.04 L890.92 572.56 L892.38 573 L893.84 573.36 L895.3 573.66 L896.75 573.9 L898.21 574.11 L899.67 574.27 L901.13 574.4 L902.58 574.51 L904.04 574.6 L905.5 574.66 L906.96 574.72 L908.41 574.76 L909.87 574.79 L911.33 574.82 L912.79 574.84 L914.24 574.85 L915.7 574.87 L917.16 574.87 L918.62 574.88 L920.07 574.89 L921.53 574.89 L922.99 574.89 L924.45 574.89 L925.9 574.9 L927.36 574.9 L928.82 574.9 L930.28 574.9 L931.73 574.9 L933.19 574.9 L934.65 574.9 L936.11 574.9 L937.56 574.9 L939.02 574.9 L940.48 574.9 L941.94 574.9" stroke="#006400" stroke-width="2.3"/>
</g>
<line x1="834.27" y1="431.2" x2="834.27" y2="580.5" stroke="#ff1a10" stroke-width="2.2"/>
<path d="M780.7 580.5 H941.4 M780.7 580.5 V587.8 M807.48 580.5 V587.8 M834.27 580.5 V587.8 M861.05 580.5 V587.8 M887.83 580.5 V587.8 M914.62 580.5 V587.8 M941.4 580.5 V587.8 M759.9 574.9 V442.4 M753 574.9 H759.9 M753 552.82 H759.9 M753 530.73 H759.9 M753 508.65 H759.9 M753 486.57 H759.9 M753 464.48 H759.9 M753 442.4 H759.9" stroke="#222" stroke-width="1.1" fill="none"/>
<text class="a" x="780.7" y="606.2" text-anchor="middle">-0.4</text>
<text class="a" x="834.27" y="606.2" text-anchor="middle">0.0</text>
<text class="a" x="861.05" y="606.2" text-anchor="middle">0.2</text>
<text class="a" x="887.83" y="606.2" text-anchor="middle">0.4</text>
<text class="a" x="914.62" y="606.2" text-anchor="middle">0.6</text>
<text class="a" x="941.4" y="606.2" text-anchor="middle">0.8</text>
<text class="a" x="743.4" y="574.9" text-anchor="middle" transform="rotate(-90 743.4 574.9)">0.0</text>
<text class="a" x="743.4" y="530.73" text-anchor="middle" transform="rotate(-90 743.4 530.73)">1.0</text>
<text class="a" x="743.4" y="486.57" text-anchor="middle" transform="rotate(-90 743.4 486.57)">2.0</text>
<text class="a" x="743.4" y="442.4" text-anchor="middle" transform="rotate(-90 743.4 442.4)">3.0</text>
<text class="t" x="854.05" y="422.1" text-anchor="middle">TSD</text>
<g fill="#ffff00" stroke="#000" stroke-width="1.1"><rect x="1026.13" y="566.39" width="14.53" height="8.51"/><rect x="1040.67" y="543.33" width="14.53" height="31.57"/><rect x="1055.2" y="538.36" width="14.53" height="36.54"/><rect x="1069.73" y="551.13" width="14.53" height="23.77"/><rect x="1084.27" y="479.83" width="14.53" height="95.07"/><rect x="1098.8" y="485.15" width="14.53" height="89.75"/><rect x="1113.33" y="525.24" width="14.53" height="49.66"/><rect x="1127.87" y="561.77" width="14.53" height="13.13"/><rect x="1142.4" y="571.35" width="14.53" height="3.55"/></g>
<g clip-path="url(#c_GLD)" fill="none" stroke-linejoin="round" stroke-linecap="round">
<path d="M1007 574.9 C1008.5 574.7 1013.17 574.47 1016 573.7 C1018.83 572.93 1021.67 571.37 1024 570.3 C1026.33 569.23 1027.77 568.42 1030 567.3 C1032.23 566.18 1035.35 565.85 1037.4 563.6 C1039.45 561.35 1040.67 557.07 1042.3 553.8 C1043.93 550.53 1045.57 546.67 1047.2 544 C1048.83 541.33 1050.67 539 1052.1 537.8 C1053.53 536.6 1054.15 536.9 1055.8 536.8 C1057.45 536.7 1060.15 536.83 1062 537.2 C1063.85 537.57 1065.27 537.67 1066.9 539 C1068.53 540.33 1070.37 543.35 1071.8 545.2 C1073.23 547.05 1074.47 549.12 1075.5 550.1 C1076.53 551.08 1076.97 551.72 1078 551.1 C1079.03 550.48 1080.68 549.02 1081.7 546.4 C1082.72 543.78 1083.28 540.32 1084.1 535.4 C1084.92 530.48 1085.85 522.17 1086.6 516.9 C1087.35 511.63 1087.75 510.08 1088.6 503.8 C1089.45 497.52 1090.78 486.37 1091.7 479.2 C1092.62 472.03 1093.28 466.53 1094.1 460.8 C1094.92 455.07 1095.83 448.8 1096.6 444.8 C1097.37 440.8 1097.98 437.22 1098.7 436.8 C1099.42 436.38 1100.22 439.33 1100.9 442.3 C1101.58 445.27 1102.18 449.88 1102.8 454.6 C1103.42 459.32 1104 465.27 1104.6 470.6 C1105.2 475.93 1105.68 481.07 1106.4 486.6 C1107.12 492.13 1107.97 500.12 1108.9 503.8 C1109.83 507.48 1110.87 507.47 1112 508.7 C1113.13 509.93 1114.58 509.55 1115.7 511.2 C1116.82 512.85 1117.68 515.73 1118.7 518.6 C1119.72 521.47 1120.53 523.3 1121.8 528.4 C1123.07 533.5 1124.55 544.05 1126.3 549.2 C1128.05 554.35 1130.3 556.95 1132.3 559.3 C1134.3 561.65 1136.3 561.63 1138.3 563.3 C1140.3 564.97 1141.97 567.7 1144.3 569.3 C1146.63 570.9 1148.97 572.07 1152.3 572.9 C1155.63 573.73 1160.28 574.17 1164.3 574.3 C1168.32 574.43 1171.65 573.6 1176.4 573.7 C1181.15 573.8 1190.07 574.7 1192.8 574.9" stroke="#1234ff" stroke-width="2.3"/>
<path d="M1011.02 574.4 L1012.49 574.3 L1013.96 574.18 L1015.43 574.04 L1016.9 573.88 L1018.37 573.69 L1019.84 573.47 L1021.31 573.21 L1022.78 572.92 L1024.25 572.58 L1025.72 572.19 L1027.19 571.75 L1028.66 571.26 L1030.13 570.69 L1031.6 570.06 L1033.07 569.35 L1034.54 568.56 L1036.01 567.68 L1037.48 566.7 L1038.95 565.62 L1040.42 564.44 L1041.89 563.15 L1043.37 561.74 L1044.84 560.22 L1046.31 558.57 L1047.78 556.8 L1049.25 554.91 L1050.72 552.89 L1052.19 550.76 L1053.66 548.5 L1055.13 546.13 L1056.6 543.66 L1058.07 541.09 L1059.54 538.43 L1061.01 535.7 L1062.48 532.9 L1063.95 530.06 L1065.42 527.19 L1066.89 524.3 L1068.36 521.43 L1069.83 518.58 L1071.3 515.78 L1072.77 513.06 L1074.24 510.42 L1075.71 507.91 L1077.18 505.53 L1078.65 503.31 L1080.12 501.27 L1081.59 499.43 L1083.06 497.8 L1084.53 496.41 L1086 495.27 L1087.47 494.38 L1088.94 493.76 L1090.41 493.41 L1091.88 493.34 L1093.35 493.54 L1094.83 494.02 L1096.3 494.77 L1097.77 495.78 L1099.24 497.05 L1100.71 498.55 L1102.18 500.28 L1103.65 502.22 L1105.12 504.35 L1106.59 506.65 L1108.06 509.09 L1109.53 511.67 L1111 514.35 L1112.47 517.11 L1113.94 519.94 L1115.41 522.8 L1116.88 525.68 L1118.35 528.56 L1119.82 531.42 L1121.29 534.24 L1122.76 537.01 L1124.23 539.71 L1125.7 542.33 L1127.17 544.86 L1128.64 547.28 L1130.11 549.59 L1131.58 551.79 L1133.05 553.87 L1134.52 555.83 L1135.99 557.66 L1137.46 559.37 L1138.93 560.96 L1140.4 562.43 L1141.87 563.78 L1143.34 565.02 L1144.81 566.15 L1146.29 567.18 L1147.76 568.11 L1149.23 568.95 L1150.7 569.7 L1152.17 570.37 L1153.64 570.97 L1155.11 571.5 L1156.58 571.97 L1158.05 572.38 L1159.52 572.75 L1160.99 573.06 L1162.46 573.34 L1163.93 573.58 L1165.4 573.78 L1166.87 573.96 L1168.34 574.11 L1169.81 574.24 L1171.28 574.35 L1172.75 574.44 L1174.22 574.52 L1175.69 574.59 L1177.16 574.64 L1178.63 574.69 L1180.1 574.73 L1181.57 574.76 L1183.04 574.79 L1184.51 574.81 L1185.98 574.83 L1187.45 574.84" stroke="#006400" stroke-width="2.3"/>
</g>
<line x1="1098.8" y1="431.2" x2="1098.8" y2="580.5" stroke="#ff1a10" stroke-width="2.2"/>
<path d="M1011.6 580.5 H1186 M1011.6 580.5 V587.8 M1040.67 580.5 V587.8 M1069.73 580.5 V587.8 M1098.8 580.5 V587.8 M1127.87 580.5 V587.8 M1156.93 580.5 V587.8 M1186 580.5 V587.8 M1004.6 574.9 V433 M997.7 574.9 H1004.6 M997.7 539.42 H1004.6 M997.7 503.95 H1004.6 M997.7 468.48 H1004.6 M997.7 433 H1004.6" stroke="#222" stroke-width="1.1" fill="none"/>
<text class="a" x="1011.6" y="606.2" text-anchor="middle">-6</text>
<text class="a" x="1040.67" y="606.2" text-anchor="middle">-4</text>
<text class="a" x="1069.73" y="606.2" text-anchor="middle">-2</text>
<text class="a" x="1098.8" y="606.2" text-anchor="middle">0</text>
<text class="a" x="1127.87" y="606.2" text-anchor="middle">2</text>
<text class="a" x="1156.93" y="606.2" text-anchor="middle">4</text>
<text class="a" x="1186" y="606.2" text-anchor="middle">6</text>
<text class="a" x="988.1" y="574.9" text-anchor="middle" transform="rotate(-90 988.1 574.9)">0.0</text>
<text class="a" x="988.1" y="539.42" text-anchor="middle" transform="rotate(-90 988.1 539.42)">0.1</text>
<text class="a" x="988.1" y="503.95" text-anchor="middle" transform="rotate(-90 988.1 503.95)">0.2</text>
<text class="a" x="988.1" y="468.48" text-anchor="middle" transform="rotate(-90 988.1 468.48)">0.3</text>
<text class="a" x="988.1" y="433" text-anchor="middle" transform="rotate(-90 988.1 433)">0.4</text>
<text class="t" x="1098.75" y="422.1" text-anchor="middle">GLD</text>
<g fill="#ffff00" stroke="#000" stroke-width="1.1"><rect x="32.68" y="768.7" width="10.92" height="12.2"/><rect x="43.6" y="734.21" width="10.93" height="46.69"/><rect x="54.53" y="740.59" width="10.92" height="40.31"/><rect x="65.45" y="727.61" width="10.92" height="53.29"/><rect x="76.38" y="700.11" width="10.93" height="80.79"/><rect x="87.3" y="709.58" width="10.92" height="71.32"/><rect x="98.22" y="703.5" width="10.93" height="77.4"/><rect x="109.15" y="711.8" width="10.93" height="69.1"/><rect x="120.08" y="732.6" width="10.92" height="48.3"/><rect x="131" y="745.59" width="10.93" height="35.31"/><rect x="141.93" y="738.21" width="10.92" height="42.69"/><rect x="152.85" y="642.61" width="10.93" height="138.29"/><rect x="163.78" y="667.5" width="10.93" height="113.4"/><rect x="174.7" y="747.8" width="10.92" height="33.1"/><rect x="185.62" y="779.68" width="10.93" height="1.22"/></g>
<g clip-path="url(#c_EPU)" fill="none" stroke-linejoin="round" stroke-linecap="round">
<path d="M25.4 780.9 C26.57 780.12 30.32 779.43 32.4 776.2 C34.48 772.97 36.05 766.42 37.9 761.5 C39.75 756.58 41.65 750.55 43.5 746.7 C45.35 742.85 47.17 740.08 49 738.4 C50.83 736.72 52.67 736.82 54.5 736.6 C56.33 736.38 58.3 737.42 60 737.1 C61.7 736.78 63.15 736.48 64.7 734.7 C66.25 732.92 67.62 729.63 69.3 726.4 C70.98 723.17 72.95 718.53 74.8 715.3 C76.65 712.07 78.7 708.83 80.4 707 C82.1 705.17 83.17 704.52 85 704.3 C86.83 704.08 89.1 705.65 91.4 705.7 C93.7 705.75 96.65 704.53 98.8 704.6 C100.95 704.67 102.43 705.2 104.3 706.1 C106.17 707 108.3 708.6 110 710 C111.7 711.4 112.87 712.38 114.5 714.5 C116.13 716.62 117.97 719.87 119.8 722.7 C121.63 725.53 123.53 728.73 125.5 731.5 C127.47 734.27 130.02 737.5 131.6 739.3 C133.18 741.1 133.92 741.68 135 742.3 C136.08 742.92 137.07 743.47 138.1 743 C139.13 742.53 140.13 741.95 141.2 739.5 C142.27 737.05 143.18 733.87 144.5 728.3 C145.82 722.73 147.57 713.8 149.1 706.1 C150.63 698.4 152.15 689.78 153.7 682.1 C155.25 674.42 157.02 664.77 158.4 660 C159.78 655.23 160.62 653.5 162 653.5 C163.38 653.5 165.3 656.15 166.7 660 C168.1 663.85 169.18 670.15 170.4 676.6 C171.62 683.05 172.78 691.02 174 698.7 C175.22 706.38 176.47 715.32 177.7 722.7 C178.93 730.08 180.17 736.85 181.4 743 C182.63 749.15 183.87 754.98 185.1 759.6 C186.33 764.22 187.27 767.62 188.8 770.7 C190.33 773.78 192.15 776.47 194.3 778.1 C196.45 779.73 198.45 780.03 201.7 780.5 C204.95 780.97 211.78 780.83 213.8 780.9" stroke="#1234ff" stroke-width="2.3"/>
<path d="M32.35 757.99 L33.81 757.25 L35.28 756.5 L36.74 755.74 L38.21 754.97 L39.68 754.19 L41.14 753.4 L42.61 752.6 L44.07 751.8 L45.54 750.99 L47 750.17 L48.47 749.35 L49.94 748.52 L51.4 747.69 L52.87 746.85 L54.33 746.02 L55.8 745.18 L57.27 744.34 L58.73 743.5 L60.2 742.67 L61.66 741.83 L63.13 741 L64.59 740.17 L66.06 739.35 L67.53 738.54 L68.99 737.73 L70.46 736.93 L71.92 736.13 L73.39 735.35 L74.85 734.58 L76.32 733.82 L77.79 733.08 L79.25 732.35 L80.72 731.63 L82.18 730.93 L83.65 730.25 L85.12 729.59 L86.58 728.94 L88.05 728.32 L89.51 727.71 L90.98 727.13 L92.44 726.57 L93.91 726.03 L95.38 725.52 L96.84 725.03 L98.31 724.57 L99.77 724.14 L101.24 723.73 L102.7 723.35 L104.17 723 L105.64 722.68 L107.1 722.39 L108.57 722.13 L110.03 721.9 L111.5 721.7 L112.96 721.53 L114.43 721.39 L115.9 721.28 L117.36 721.21 L118.83 721.16 L120.29 721.15 L121.76 721.17 L123.23 721.22 L124.69 721.31 L126.16 721.42 L127.62 721.57 L129.09 721.75 L130.55 721.96 L132.02 722.2 L133.49 722.47 L134.95 722.77 L136.42 723.1 L137.88 723.46 L139.35 723.85 L140.81 724.27 L142.28 724.71 L143.75 725.18 L145.21 725.67 L146.68 726.19 L148.14 726.73 L149.61 727.3 L151.07 727.89 L152.54 728.5 L154.01 729.13 L155.47 729.78 L156.94 730.45 L158.4 731.14 L159.87 731.84 L161.34 732.56 L162.8 733.3 L164.27 734.05 L165.73 734.81 L167.2 735.59 L168.66 736.37 L170.13 737.16 L171.6 737.97 L173.06 738.78 L174.53 739.6 L175.99 740.42 L177.46 741.25 L178.92 742.08 L180.39 742.92 L181.86 743.75 L183.32 744.59 L184.79 745.43 L186.25 746.27 L187.72 747.1 L189.18 747.94 L190.65 748.77 L192.12 749.59 L193.58 750.41 L195.05 751.23 L196.51 752.04 L197.98 752.84 L199.45 753.63 L200.91 754.42 L202.38 755.2 L203.84 755.96 L205.31 756.72 L206.77 757.47 L208.24 758.2" stroke="#006400" stroke-width="2.3"/>
</g>
<line x1="131" y1="637.3" x2="131" y2="786.6" stroke="#ff1a10" stroke-width="2.2"/>
<path d="M43.6 786.6 H174.7 M43.6 786.6 V793.9 M87.3 786.6 V793.9 M131 786.6 V793.9 M174.7 786.6 V793.9 M25.8 780.9 V650.6 M18.9 780.9 H25.8 M18.9 759.18 H25.8 M18.9 737.47 H25.8 M18.9 715.75 H25.8 M18.9 694.03 H25.8 M18.9 672.32 H25.8 M18.9 650.6 H25.8" stroke="#222" stroke-width="1.1" fill="none"/>
<text class="a" x="43.6" y="812.3" text-anchor="middle">-0.04</text>
<text class="a" x="87.3" y="812.3" text-anchor="middle">-0.02</text>
<text class="a" x="131" y="812.3" text-anchor="middle">0.00</text>
<text class="a" x="174.7" y="812.3" text-anchor="middle">0.02</text>
<text class="a" x="9.3" y="780.9" text-anchor="middle" transform="rotate(-90 9.3 780.9)">0</text>
<text class="a" x="9.3" y="759.18" text-anchor="middle" transform="rotate(-90 9.3 759.18)">5</text>
<text class="a" x="9.3" y="737.47" text-anchor="middle" transform="rotate(-90 9.3 737.47)">10</text>
<text class="a" x="9.3" y="694.03" text-anchor="middle" transform="rotate(-90 9.3 694.03)">20</text>
<text class="a" x="9.3" y="650.6" text-anchor="middle" transform="rotate(-90 9.3 650.6)">30</text>
<text class="t" x="119.95" y="628.2" text-anchor="middle">EPU</text>
<g fill="#ffff00" stroke="#000" stroke-width="1.1"><rect x="287.72" y="778.32" width="10.25" height="2.58"/><rect x="297.97" y="765.72" width="10.25" height="15.18"/><rect x="308.22" y="642.6" width="10.25" height="138.3"/><rect x="318.46" y="724.15" width="10.25" height="56.75"/><rect x="328.71" y="740.22" width="10.25" height="40.68"/><rect x="338.96" y="710.76" width="10.25" height="70.14"/><rect x="349.2" y="728.61" width="10.25" height="52.29"/><rect x="359.45" y="750.24" width="10.25" height="30.66"/><rect x="369.7" y="773.26" width="10.25" height="7.64"/><rect x="379.94" y="777.33" width="10.25" height="3.57"/><rect x="390.19" y="775.34" width="10.25" height="5.56"/><rect x="400.44" y="765.72" width="10.25" height="15.18"/><rect x="410.68" y="757.88" width="10.25" height="23.02"/><rect x="420.93" y="759.87" width="10.25" height="21.03"/><rect x="431.18" y="767.31" width="10.25" height="13.59"/></g>
<g clip-path="url(#c_VIX)" fill="none" stroke-linejoin="round" stroke-linecap="round">
<path d="M271 780.9 C273.33 780.7 280.98 780.63 285 779.7 C289.02 778.77 292.58 778.03 295.1 775.3 C297.62 772.57 298.6 769.32 300.1 763.3 C301.6 757.28 302.93 747.88 304.1 739.2 C305.27 730.52 306.2 720.55 307.1 711.2 C308 701.85 308.67 690.12 309.5 683.1 C310.33 676.08 311.23 672.27 312.1 669.1 C312.97 665.93 313.8 663.77 314.7 664.1 C315.6 664.43 316.5 665.93 317.5 671.1 C318.5 676.27 319.6 686.75 320.7 695.1 C321.8 703.45 322.97 714.52 324.1 721.2 C325.23 727.88 326.4 732.2 327.5 735.2 C328.6 738.2 329.6 739.87 330.7 739.2 C331.8 738.53 332.87 734.2 334.1 731.2 C335.33 728.2 336.58 723.7 338.1 721.2 C339.62 718.7 341.52 715.87 343.2 716.2 C344.88 716.53 346.53 721.03 348.2 723.2 C349.87 725.37 351.53 727.2 353.2 729.2 C354.87 731.2 356.53 731.87 358.2 735.2 C359.87 738.53 361.53 744.52 363.2 749.2 C364.87 753.88 366.37 759.62 368.2 763.3 C370.03 766.98 372.03 769.3 374.2 771.3 C376.37 773.3 378.7 774.47 381.2 775.3 C383.7 776.13 386.68 776.47 389.2 776.3 C391.72 776.13 393.95 775.47 396.3 774.3 C398.65 773.13 400.8 771.47 403.3 769.3 C405.8 767.13 408.63 763.23 411.3 761.3 C413.97 759.37 416.63 757.87 419.3 757.7 C421.97 757.53 424.63 758.7 427.3 760.3 C429.97 761.9 432.62 764.63 435.3 767.3 C437.98 769.97 440.72 774.13 443.4 776.3 C446.08 778.47 449 779.53 451.4 780.3 C453.8 781.07 456.73 780.8 457.8 780.9" stroke="#1234ff" stroke-width="2.3"/>
<path d="M277.12 779.37 L278.58 779.1 L280.04 778.78 L281.5 778.41 L282.96 777.99 L284.43 777.51 L285.89 776.96 L287.35 776.35 L288.81 775.65 L290.27 774.87 L291.73 774 L293.19 773.04 L294.66 771.97 L296.12 770.78 L297.58 769.49 L299.04 768.07 L300.5 766.53 L301.96 764.86 L303.42 763.06 L304.89 761.13 L306.35 759.07 L307.81 756.88 L309.27 754.56 L310.73 752.12 L312.19 749.57 L313.65 746.91 L315.12 744.16 L316.58 741.32 L318.04 738.42 L319.5 735.47 L320.96 732.49 L322.42 729.49 L323.88 726.5 L325.35 723.55 L326.81 720.65 L328.27 717.82 L329.73 715.1 L331.19 712.5 L332.65 710.06 L334.11 707.79 L335.58 705.71 L337.04 703.85 L338.5 702.23 L339.96 700.85 L341.42 699.74 L342.88 698.91 L344.34 698.37 L345.81 698.11 L347.27 698.16 L348.73 698.49 L350.19 699.11 L351.65 700.02 L353.11 701.21 L354.57 702.65 L356.04 704.34 L357.5 706.27 L358.96 708.4 L360.42 710.72 L361.88 713.21 L363.34 715.84 L364.8 718.59 L366.27 721.44 L367.73 724.36 L369.19 727.33 L370.65 730.32 L372.11 733.31 L373.57 736.29 L375.03 739.23 L376.5 742.11 L377.96 744.93 L379.42 747.65 L380.88 750.28 L382.34 752.8 L383.8 755.21 L385.26 757.49 L386.73 759.65 L388.19 761.68 L389.65 763.57 L391.11 765.33 L392.57 766.97 L394.03 768.47 L395.49 769.86 L396.96 771.12 L398.42 772.27 L399.88 773.31 L401.34 774.25 L402.8 775.1 L404.26 775.85 L405.72 776.52 L407.19 777.12 L408.65 777.65 L410.11 778.11 L411.57 778.52 L413.03 778.87 L414.49 779.18 L415.95 779.44 L417.42 779.67 L418.88 779.87 L420.34 780.04 L421.8 780.18 L423.26 780.3 L424.72 780.41 L426.18 780.49 L427.65 780.57 L429.11 780.63 L430.57 780.68 L432.03 780.72 L433.49 780.75 L434.95 780.78 L436.41 780.8 L437.88 780.82 L439.34 780.84 L440.8 780.85 L442.26 780.86 L443.72 780.87 L445.18 780.88 L446.64 780.88 L448.11 780.89 L449.57 780.89 L451.03 780.89 L452.49 780.89" stroke="#006400" stroke-width="2.3"/>
</g>
<line x1="308.22" y1="637.3" x2="308.22" y2="786.6" stroke="#ff1a10" stroke-width="2.2"/>
<path d="M282.6 786.6 H436.3 M282.6 786.6 V793.9 M308.22 786.6 V793.9 M333.83 786.6 V793.9 M359.45 786.6 V793.9 M385.07 786.6 V793.9 M410.68 786.6 V793.9 M436.3 786.6 V793.9 M270.5 780.9 V642 M263.6 780.9 H270.5 M263.6 761.06 H270.5 M263.6 741.21 H270.5 M263.6 721.37 H270.5 M263.6 701.53 H270.5 M263.6 681.69 H270.5 M263.6 661.84 H270.5 M263.6 642 H270.5" stroke="#222" stroke-width="1.1" fill="none"/>
<text class="a" x="282.6" y="812.3" text-anchor="middle">-0.5</text>
<text class="a" x="333.83" y="812.3" text-anchor="middle">0.5</text>
<text class="a" x="385.07" y="812.3" text-anchor="middle">1.5</text>
<text class="a" x="436.3" y="812.3" text-anchor="middle">2.5</text>
<text class="a" x="254" y="780.9" text-anchor="middle" transform="rotate(-90 254 780.9)">0.0</text>
<text class="a" x="254" y="741.21" text-anchor="middle" transform="rotate(-90 254 741.21)">0.4</text>
<text class="a" x="254" y="701.53" text-anchor="middle" transform="rotate(-90 254 701.53)">0.8</text>
<text class="a" x="254" y="661.84" text-anchor="middle" transform="rotate(-90 254 661.84)">1.2</text>
<text class="t" x="364.65" y="628.2" text-anchor="middle">VIX</text>
<g fill="#ffff00" stroke="#000" stroke-width="1.1"><rect x="536.89" y="761.67" width="14.49" height="19.23"/><rect x="551.38" y="711.65" width="14.49" height="69.25"/><rect x="565.87" y="722.24" width="14.49" height="58.66"/><rect x="580.36" y="706.77" width="14.49" height="74.13"/><rect x="594.85" y="686.72" width="14.49" height="94.18"/><rect x="609.34" y="760.7" width="14.49" height="20.2"/><rect x="623.83" y="760.94" width="14.49" height="19.96"/><rect x="638.32" y="756.22" width="14.49" height="24.68"/><rect x="652.81" y="762.9" width="14.49" height="18"/><rect x="667.3" y="776.66" width="14.49" height="4.24"/></g>
<g clip-path="url(#c_FSI)" fill="none" stroke-linejoin="round" stroke-linecap="round">
<path d="M515 780.9 C516.5 780.78 521.5 780.52 524 780.2 C526.5 779.88 528.38 779.52 530 779 C531.62 778.48 532.32 778.33 533.7 777.1 C535.08 775.87 536.77 773.9 538.3 771.6 C539.83 769.3 541.37 766.83 542.9 763.3 C544.43 759.77 546.12 755.32 547.5 750.4 C548.88 745.48 550.12 738.72 551.2 733.8 C552.28 728.88 552.98 724.13 554 720.9 C555.02 717.67 555.92 715.17 557.3 714.4 C558.68 713.63 560.7 715.68 562.3 716.3 C563.9 716.92 565.27 718.2 566.9 718.1 C568.53 718 570.57 714.93 572.1 715.7 C573.63 716.47 574.75 720 576.1 722.7 C577.45 725.4 578.97 731.9 580.2 731.9 C581.43 731.9 582.48 727.92 583.5 722.7 C584.52 717.48 585.38 708.9 586.3 700.6 C587.22 692.3 587.93 681.52 589 672.9 C590.07 664.28 591.62 653.97 592.7 648.9 C593.78 643.83 594.57 642.8 595.5 642.5 C596.43 642.2 597.38 642.03 598.3 647.1 C599.22 652.17 600.08 662.45 601 672.9 C601.92 683.35 602.72 698.73 603.8 709.8 C604.88 720.87 606.12 731.77 607.5 739.3 C608.88 746.83 610.42 751.3 612.1 755 C613.78 758.7 615.9 760.18 617.6 761.5 C619.3 762.82 620.6 762.9 622.3 762.9 C624 762.9 625.82 762.1 627.8 761.5 C629.78 760.9 631.78 760.07 634.2 759.3 C636.62 758.53 639.62 757.58 642.3 756.9 C644.98 756.22 647.97 754.97 650.3 755.2 C652.63 755.43 654.3 756.62 656.3 758.3 C658.3 759.98 660.3 762.97 662.3 765.3 C664.3 767.63 665.97 770.37 668.3 772.3 C670.63 774.23 673.28 775.73 676.3 776.9 C679.32 778.07 681.98 778.63 686.4 779.3 C690.82 779.97 700.07 780.63 702.8 780.9" stroke="#1234ff" stroke-width="2.3"/>
<path d="M522.04 771.56 L523.5 770.8 L524.96 769.99 L526.42 769.14 L527.88 768.23 L529.35 767.29 L530.81 766.29 L532.27 765.25 L533.73 764.16 L535.19 763.02 L536.65 761.84 L538.12 760.62 L539.58 759.35 L541.04 758.03 L542.5 756.68 L543.96 755.29 L545.42 753.86 L546.89 752.4 L548.35 750.91 L549.81 749.39 L551.27 747.85 L552.73 746.29 L554.19 744.71 L555.66 743.13 L557.12 741.54 L558.58 739.95 L560.04 738.36 L561.5 736.79 L562.96 735.23 L564.43 733.69 L565.89 732.19 L567.35 730.71 L568.81 729.27 L570.27 727.88 L571.73 726.54 L573.2 725.26 L574.66 724.04 L576.12 722.89 L577.58 721.81 L579.04 720.81 L580.5 719.89 L581.97 719.06 L583.43 718.32 L584.89 717.67 L586.35 717.12 L587.81 716.67 L589.27 716.32 L590.74 716.07 L592.2 715.93 L593.66 715.9 L595.12 715.97 L596.58 716.15 L598.05 716.43 L599.51 716.82 L600.97 717.3 L602.43 717.89 L603.89 718.57 L605.35 719.34 L606.82 720.21 L608.28 721.15 L609.74 722.18 L611.2 723.29 L612.66 724.47 L614.12 725.71 L615.59 727.01 L617.05 728.37 L618.51 729.78 L619.97 731.23 L621.43 732.72 L622.89 734.24 L624.36 735.78 L625.82 737.35 L627.28 738.92 L628.74 740.51 L630.2 742.1 L631.66 743.69 L633.13 745.27 L634.59 746.84 L636.05 748.4 L637.51 749.93 L638.97 751.44 L640.43 752.92 L641.9 754.37 L643.36 755.78 L644.82 757.16 L646.28 758.5 L647.74 759.8 L649.2 761.06 L650.67 762.27 L652.13 763.43 L653.59 764.55 L655.05 765.62 L656.51 766.65 L657.97 767.63 L659.44 768.56 L660.9 769.44 L662.36 770.28 L663.82 771.07 L665.28 771.82 L666.74 772.53 L668.21 773.19 L669.67 773.81 L671.13 774.4 L672.59 774.94 L674.05 775.45 L675.51 775.92 L676.98 776.36 L678.44 776.77 L679.9 777.14 L681.36 777.49 L682.82 777.81 L684.28 778.11 L685.75 778.38 L687.21 778.63 L688.67 778.85 L690.13 779.06 L691.59 779.25 L693.05 779.42 L694.52 779.58 L695.98 779.72 L697.44 779.85" stroke="#006400" stroke-width="2.3"/>
</g>
<line x1="594.85" y1="637.3" x2="594.85" y2="786.6" stroke="#ff1a10" stroke-width="2.2"/>
<path d="M522.4 786.6 H667.3 M522.4 786.6 V793.9 M558.62 786.6 V793.9 M594.85 786.6 V793.9 M631.07 786.6 V793.9 M667.3 786.6 V793.9 M515.2 780.9 V658.7 M508.3 780.9 H515.2 M508.3 740.17 H515.2 M508.3 699.43 H515.2 M508.3 658.7 H515.2" stroke="#222" stroke-width="1.1" fill="none"/>
<text class="a" x="522.4" y="812.3" text-anchor="middle">-10</text>
<text class="a" x="558.62" y="812.3" text-anchor="middle">-5</text>
<text class="a" x="594.85" y="812.3" text-anchor="middle">0</text>
<text class="a" x="631.07" y="812.3" text-anchor="middle">5</text>
<text class="a" x="667.3" y="812.3" text-anchor="middle">10</text>
<text class="a" x="498.7" y="780.9" text-anchor="middle" transform="rotate(-90 498.7 780.9)">0.00</text>
<text class="a" x="498.7" y="740.17" text-anchor="middle" transform="rotate(-90 498.7 740.17)">0.05</text>
<text class="a" x="498.7" y="699.43" text-anchor="middle" transform="rotate(-90 498.7 699.43)">0.10</text>
<text class="a" x="498.7" y="658.7" text-anchor="middle" transform="rotate(-90 498.7 658.7)">0.15</text>
<text class="t" x="609.35" y="628.2" text-anchor="middle">FSI</text>
</svg></body></html>
